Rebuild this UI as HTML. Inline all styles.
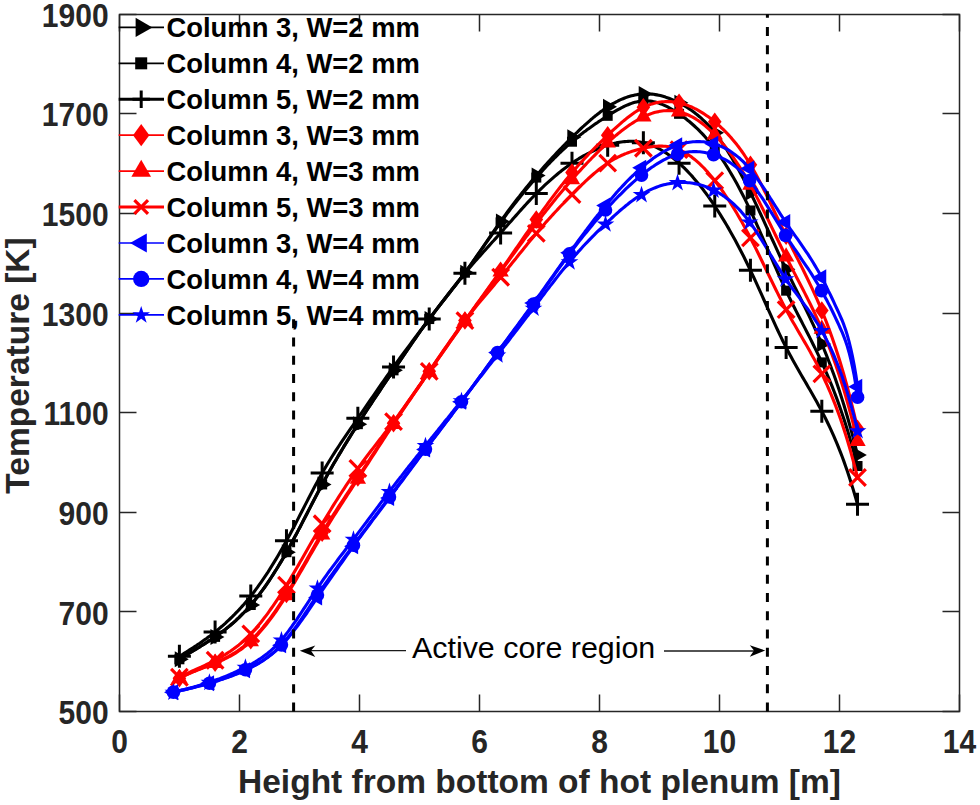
<!DOCTYPE html><html><head><meta charset="utf-8"><style>html,body{margin:0;padding:0;background:#fff;}svg{display:block;}</style></head><body>
<svg width="980" height="805" viewBox="0 0 980 805">
<rect x="0" y="0" width="980" height="805" fill="#fff"/>
<path d="M179.4,659.3 L181.1,658.2 L182.8,657.2 L184.5,656.1 L186.2,655.1 L187.9,654.0 L189.6,653.0 L191.3,652.0 L193.0,650.9 L194.7,649.9 L196.4,648.9 L198.1,647.8 L199.8,646.8 L201.5,645.7 L203.2,644.7 L204.9,643.6 L206.6,642.5 L208.3,641.4 L210.0,640.3 L211.7,639.2 L213.4,638.0 L215.1,636.9 L216.8,635.7 L218.5,634.5 L220.2,633.2 L221.9,632.0 L223.6,630.7 L225.3,629.4 L227.0,628.0 L228.7,626.6 L230.4,625.2 L232.1,623.8 L233.8,622.3 L235.5,620.8 L237.2,619.2 L238.9,617.6 L240.6,615.9 L242.3,614.2 L244.0,612.5 L245.7,610.7 L247.4,608.8 L249.1,606.9 L250.8,605.0 L252.5,603.0 L254.2,600.9 L255.9,598.8 L257.6,596.7 L259.3,594.5 L261.0,592.2 L262.7,589.9 L264.4,587.5 L266.1,585.1 L267.8,582.6 L269.5,580.1 L271.2,577.5 L272.9,574.9 L274.6,572.2 L276.3,569.5 L278.0,566.7 L279.7,563.9 L281.4,561.1 L283.1,558.2 L284.8,555.2 L286.5,552.2 L288.2,549.1 L289.9,546.1 L291.6,542.9 L293.3,539.8 L295.0,536.6 L296.7,533.4 L298.4,530.1 L300.1,526.9 L301.8,523.6 L303.5,520.3 L305.2,517.0 L306.9,513.7 L308.6,510.4 L310.3,507.1 L312.0,503.8 L313.7,500.5 L315.4,497.3 L317.1,494.0 L318.8,490.8 L320.5,487.6 L322.2,484.4 L323.9,481.3 L325.6,478.2 L327.3,475.1 L329.0,472.1 L330.7,469.1 L332.4,466.1 L334.1,463.1 L335.8,460.2 L337.5,457.3 L339.2,454.4 L340.9,451.6 L342.6,448.8 L344.3,445.9 L346.0,443.2 L347.7,440.4 L349.4,437.6 L351.1,434.9 L352.8,432.2 L354.5,429.5 L356.2,426.8 L357.8,424.2 L359.5,421.5 L361.2,418.9 L362.9,416.3 L364.6,413.7 L366.3,411.1 L368.0,408.5 L369.7,405.9 L371.4,403.3 L373.1,400.7 L374.8,398.2 L376.5,395.6 L378.2,393.1 L379.9,390.6 L381.6,388.0 L383.3,385.5 L385.0,383.0 L386.7,380.5 L388.4,377.9 L390.1,375.4 L391.8,372.9 L393.5,370.4 L395.2,367.9 L396.9,365.3 L398.6,362.8 L400.3,360.3 L402.0,357.8 L403.7,355.3 L405.4,352.8 L407.1,350.3 L408.8,347.8 L410.5,345.3 L412.2,342.8 L413.9,340.4 L415.6,338.0 L417.3,335.5 L419.0,333.1 L420.7,330.7 L422.4,328.4 L424.1,326.0 L425.8,323.7 L427.5,321.4 L429.2,319.1 L430.9,316.8 L432.6,314.6 L434.3,312.3 L436.0,310.1 L437.7,307.9 L439.4,305.7 L441.1,303.6 L442.8,301.4 L444.5,299.3 L446.2,297.1 L447.9,294.9 L449.6,292.8 L451.3,290.6 L453.0,288.4 L454.7,286.2 L456.4,284.0 L458.1,281.8 L459.8,279.6 L461.5,277.3 L463.2,275.0 L464.9,272.7 L466.6,270.4 L468.3,268.0 L470.0,265.7 L471.7,263.3 L473.4,260.8 L475.1,258.4 L476.8,255.9 L478.5,253.5 L480.2,251.0 L481.9,248.5 L483.6,246.0 L485.3,243.5 L487.0,241.1 L488.7,238.6 L490.4,236.1 L492.1,233.6 L493.8,231.1 L495.5,228.7 L497.2,226.3 L498.9,223.8 L500.6,221.4 L502.3,219.0 L504.0,216.7 L505.7,214.3 L507.4,212.0 L509.1,209.7 L510.8,207.5 L512.5,205.2 L514.2,203.0 L515.9,200.7 L517.6,198.5 L519.3,196.4 L521.0,194.2 L522.7,192.1 L524.4,189.9 L526.1,187.8 L527.8,185.8 L529.5,183.7 L531.2,181.6 L532.9,179.6 L534.6,177.6 L536.3,175.6 L538.0,173.6 L539.7,171.7 L541.4,169.7 L543.1,167.8 L544.8,165.9 L546.5,164.0 L548.2,162.1 L549.9,160.2 L551.6,158.4 L553.3,156.5 L555.0,154.7 L556.7,152.9 L558.4,151.1 L560.1,149.3 L561.8,147.6 L563.5,145.8 L565.2,144.1 L566.9,142.3 L568.6,140.6 L570.3,138.9 L572.0,137.2 L573.7,135.6 L575.4,133.9 L577.1,132.3 L578.8,130.6 L580.5,129.0 L582.2,127.4 L583.9,125.9 L585.6,124.3 L587.3,122.8 L589.0,121.3 L590.7,119.8 L592.4,118.4 L594.1,116.9 L595.8,115.6 L597.5,114.2 L599.2,112.9 L600.9,111.6 L602.6,110.4 L604.3,109.1 L606.0,108.0 L607.7,106.9 L609.4,105.8 L611.1,104.7 L612.8,103.7 L614.5,102.8 L616.2,101.9 L617.9,101.0 L619.6,100.2 L621.3,99.4 L623.0,98.7 L624.7,98.0 L626.4,97.4 L628.1,96.8 L629.8,96.3 L631.5,95.8 L633.2,95.4 L634.9,95.0 L636.6,94.7 L638.3,94.4 L640.0,94.2 L641.7,94.0 L643.4,93.9 L645.1,93.8 L646.8,93.8 L648.5,93.9 L650.2,94.0 L651.9,94.1 L653.6,94.3 L655.3,94.6 L657.0,94.9 L658.7,95.2 L660.4,95.6 L662.1,96.1 L663.8,96.6 L665.5,97.1 L667.2,97.7 L668.9,98.3 L670.6,99.0 L672.3,99.7 L674.0,100.4 L675.7,101.2 L677.4,102.0 L679.1,102.9 L680.8,103.8 L682.5,104.7 L684.2,105.7 L685.9,106.7 L687.6,107.8 L689.3,108.9 L691.0,110.1 L692.7,111.3 L694.4,112.6 L696.1,113.9 L697.8,115.3 L699.5,116.7 L701.2,118.2 L702.9,119.8 L704.6,121.4 L706.3,123.1 L708.0,124.9 L709.7,126.8 L711.4,128.7 L713.1,130.7 L714.7,132.8 L716.4,134.9 L718.1,137.2 L719.8,139.5 L721.5,141.9 L723.2,144.3 L724.9,146.9 L726.6,149.5 L728.3,152.1 L730.0,154.9 L731.7,157.7 L733.4,160.6 L735.1,163.5 L736.8,166.5 L738.5,169.6 L740.2,172.7 L741.9,175.9 L743.6,179.1 L745.3,182.4 L747.0,185.7 L748.7,189.1 L750.4,192.5 L752.1,196.0 L753.8,199.5 L755.5,203.1 L757.2,206.7 L758.9,210.3 L760.6,214.0 L762.3,217.7 L764.0,221.4 L765.7,225.1 L767.4,228.8 L769.1,232.5 L770.8,236.3 L772.5,240.0 L774.2,243.7 L775.9,247.4 L777.6,251.1 L779.3,254.8 L781.0,258.5 L782.7,262.1 L784.4,265.7 L786.1,269.2 L787.8,272.8 L789.5,276.3 L791.2,279.7 L792.9,283.2 L794.6,286.6 L796.3,290.0 L798.0,293.4 L799.7,296.8 L801.4,300.3 L803.1,303.7 L804.8,307.1 L806.5,310.6 L808.2,314.1 L809.9,317.7 L811.6,321.3 L813.3,324.9 L815.0,328.6 L816.7,332.3 L818.4,336.1 L820.1,340.0 L821.8,344.0 L823.5,348.0 L825.2,352.1 L826.9,356.4 L828.6,360.7 L830.3,365.1 L832.0,369.7 L833.7,374.3 L835.4,379.1 L837.1,384.0 L838.8,389.0 L840.5,394.2 L842.2,399.6 L843.9,405.0 L845.6,410.7 L847.3,416.5 L849.0,422.5 L850.7,428.6 L852.4,434.9 L854.1,441.4 L855.8,448.2 L857.5,455.1" fill="none" stroke="#000" stroke-width="3.1" stroke-linejoin="round"/>
<path d="M174.73,651.30 L188.73,659.30 L174.73,667.30Z" fill="#000"/>
<path d="M210.42,628.88 L224.42,636.88 L210.42,644.88Z" fill="#000"/>
<path d="M246.11,597.00 L260.11,605.00 L246.11,613.00Z" fill="#000"/>
<path d="M281.80,544.19 L295.80,552.19 L281.80,560.19Z" fill="#000"/>
<path d="M317.49,476.45 L331.49,484.45 L317.49,492.45Z" fill="#000"/>
<path d="M353.18,416.17 L367.18,424.17 L353.18,432.17Z" fill="#000"/>
<path d="M388.87,362.37 L402.87,370.37 L388.87,378.37Z" fill="#000"/>
<path d="M424.56,311.06 L438.56,319.06 L424.56,327.06Z" fill="#000"/>
<path d="M460.25,264.74 L474.25,272.74 L460.25,280.74Z" fill="#000"/>
<path d="M495.94,213.43 L509.94,221.43 L495.94,229.43Z" fill="#000"/>
<path d="M531.63,167.60 L545.63,175.60 L531.63,183.60Z" fill="#000"/>
<path d="M567.32,129.24 L581.32,137.24 L567.32,145.24Z" fill="#000"/>
<path d="M603.01,98.85 L617.01,106.85 L603.01,114.85Z" fill="#000"/>
<path d="M638.70,85.90 L652.70,93.90 L638.70,101.90Z" fill="#000"/>
<path d="M674.39,94.87 L688.39,102.87 L674.39,110.87Z" fill="#000"/>
<path d="M710.08,124.76 L724.08,132.76 L710.08,140.76Z" fill="#000"/>
<path d="M745.77,184.54 L759.77,192.54 L745.77,200.54Z" fill="#000"/>
<path d="M781.46,261.25 L795.46,269.25 L781.46,277.25Z" fill="#000"/>
<path d="M817.15,335.97 L831.15,343.97 L817.15,351.97Z" fill="#000"/>
<path d="M852.84,447.06 L866.84,455.06 L852.84,463.06Z" fill="#000"/>
<path d="M179.4,659.3 L181.1,658.2 L182.8,657.2 L184.5,656.1 L186.2,655.1 L187.9,654.0 L189.6,653.0 L191.3,652.0 L193.0,650.9 L194.7,649.9 L196.4,648.9 L198.1,647.8 L199.8,646.8 L201.5,645.7 L203.2,644.7 L204.9,643.6 L206.6,642.5 L208.3,641.4 L210.0,640.3 L211.7,639.2 L213.4,638.0 L215.1,636.9 L216.8,635.7 L218.5,634.5 L220.2,633.2 L221.9,632.0 L223.6,630.7 L225.3,629.4 L227.0,628.0 L228.7,626.6 L230.4,625.2 L232.1,623.8 L233.8,622.3 L235.5,620.8 L237.2,619.2 L238.9,617.6 L240.6,615.9 L242.3,614.2 L244.0,612.5 L245.7,610.7 L247.4,608.8 L249.1,606.9 L250.8,605.0 L252.5,603.0 L254.2,600.9 L255.9,598.8 L257.6,596.7 L259.3,594.5 L261.0,592.2 L262.7,589.9 L264.4,587.5 L266.1,585.1 L267.8,582.6 L269.5,580.1 L271.2,577.5 L272.9,574.9 L274.6,572.2 L276.3,569.5 L278.0,566.7 L279.7,563.9 L281.4,561.1 L283.1,558.2 L284.8,555.2 L286.5,552.2 L288.2,549.1 L289.9,546.1 L291.6,542.9 L293.3,539.8 L295.0,536.6 L296.7,533.4 L298.4,530.1 L300.1,526.9 L301.8,523.6 L303.5,520.3 L305.2,517.0 L306.9,513.7 L308.6,510.4 L310.3,507.1 L312.0,503.8 L313.7,500.5 L315.4,497.3 L317.1,494.0 L318.8,490.8 L320.5,487.6 L322.2,484.4 L323.9,481.3 L325.6,478.2 L327.3,475.1 L329.0,472.1 L330.7,469.1 L332.4,466.1 L334.1,463.1 L335.8,460.2 L337.5,457.3 L339.2,454.4 L340.9,451.6 L342.6,448.8 L344.3,445.9 L346.0,443.2 L347.7,440.4 L349.4,437.6 L351.1,434.9 L352.8,432.2 L354.5,429.5 L356.2,426.8 L357.8,424.2 L359.5,421.5 L361.2,418.9 L362.9,416.3 L364.6,413.7 L366.3,411.0 L368.0,408.5 L369.7,405.9 L371.4,403.3 L373.1,400.7 L374.8,398.2 L376.5,395.6 L378.2,393.1 L379.9,390.6 L381.6,388.0 L383.3,385.5 L385.0,383.0 L386.7,380.4 L388.4,377.9 L390.1,375.4 L391.8,372.9 L393.5,370.4 L395.2,367.9 L396.9,365.3 L398.6,362.8 L400.3,360.3 L402.0,357.8 L403.7,355.3 L405.4,352.8 L407.1,350.3 L408.8,347.8 L410.5,345.3 L412.2,342.9 L413.9,340.4 L415.6,338.0 L417.3,335.6 L419.0,333.1 L420.7,330.7 L422.4,328.4 L424.1,326.0 L425.8,323.7 L427.5,321.4 L429.2,319.1 L430.9,316.8 L432.6,314.5 L434.3,312.3 L436.0,310.1 L437.7,307.9 L439.4,305.7 L441.1,303.5 L442.8,301.3 L444.5,299.2 L446.2,297.0 L447.9,294.8 L449.6,292.7 L451.3,290.5 L453.0,288.3 L454.7,286.2 L456.4,284.0 L458.1,281.7 L459.8,279.5 L461.5,277.3 L463.2,275.0 L464.9,272.7 L466.6,270.4 L468.3,268.1 L470.0,265.8 L471.7,263.4 L473.4,261.0 L475.1,258.6 L476.8,256.2 L478.5,253.8 L480.2,251.3 L481.9,248.9 L483.6,246.5 L485.3,244.0 L487.0,241.6 L488.7,239.2 L490.4,236.8 L492.1,234.3 L493.8,231.9 L495.5,229.5 L497.2,227.1 L498.9,224.8 L500.6,222.4 L502.3,220.1 L504.0,217.8 L505.7,215.5 L507.4,213.2 L509.1,211.0 L510.8,208.7 L512.5,206.5 L514.2,204.3 L515.9,202.2 L517.6,200.0 L519.3,197.9 L521.0,195.8 L522.7,193.7 L524.4,191.6 L526.1,189.5 L527.8,187.5 L529.5,185.5 L531.2,183.5 L532.9,181.5 L534.6,179.5 L536.3,177.6 L538.0,175.7 L539.7,173.8 L541.4,171.9 L543.1,170.0 L544.8,168.2 L546.5,166.3 L548.2,164.5 L549.9,162.8 L551.6,161.0 L553.3,159.3 L555.0,157.5 L556.7,155.9 L558.4,154.2 L560.1,152.5 L561.8,150.9 L563.5,149.3 L565.2,147.8 L566.9,146.2 L568.6,144.7 L570.3,143.2 L572.0,141.7 L573.7,140.3 L575.4,138.9 L577.1,137.5 L578.8,136.1 L580.5,134.8 L582.2,133.4 L583.9,132.1 L585.6,130.9 L587.3,129.6 L589.0,128.4 L590.7,127.2 L592.4,126.0 L594.1,124.8 L595.8,123.6 L597.5,122.5 L599.2,121.3 L600.9,120.2 L602.6,119.1 L604.3,118.0 L606.0,116.9 L607.7,115.8 L609.4,114.8 L611.1,113.7 L612.8,112.7 L614.5,111.7 L616.2,110.7 L617.9,109.7 L619.6,108.8 L621.3,107.9 L623.0,107.0 L624.7,106.2 L626.4,105.4 L628.1,104.7 L629.8,104.0 L631.5,103.4 L633.2,102.8 L634.9,102.3 L636.6,101.9 L638.3,101.5 L640.0,101.2 L641.7,101.0 L643.4,100.9 L645.1,100.8 L646.8,100.9 L648.5,101.0 L650.2,101.1 L651.9,101.4 L653.6,101.7 L655.3,102.1 L657.0,102.6 L658.7,103.1 L660.4,103.7 L662.1,104.4 L663.8,105.1 L665.5,105.9 L667.2,106.7 L668.9,107.6 L670.6,108.5 L672.3,109.5 L674.0,110.5 L675.7,111.6 L677.4,112.7 L679.1,113.8 L680.8,115.0 L682.5,116.2 L684.2,117.5 L685.9,118.8 L687.6,120.2 L689.3,121.5 L691.0,123.0 L692.7,124.5 L694.4,126.0 L696.1,127.6 L697.8,129.2 L699.5,130.9 L701.2,132.7 L702.9,134.4 L704.6,136.3 L706.3,138.2 L708.0,140.2 L709.7,142.2 L711.4,144.3 L713.1,146.5 L714.7,148.7 L716.4,151.0 L718.1,153.3 L719.8,155.8 L721.5,158.3 L723.2,160.8 L724.9,163.4 L726.6,166.1 L728.3,168.9 L730.0,171.7 L731.7,174.6 L733.4,177.5 L735.1,180.5 L736.8,183.6 L738.5,186.7 L740.2,189.9 L741.9,193.2 L743.6,196.5 L745.3,199.9 L747.0,203.4 L748.7,206.9 L750.4,210.5 L752.1,214.1 L753.8,217.8 L755.5,221.5 L757.2,225.3 L758.9,229.1 L760.6,233.0 L762.3,236.9 L764.0,240.8 L765.7,244.7 L767.4,248.6 L769.1,252.6 L770.8,256.5 L772.5,260.4 L774.2,264.3 L775.9,268.2 L777.6,272.0 L779.3,275.8 L781.0,279.6 L782.7,283.4 L784.4,287.0 L786.1,290.7 L787.8,294.2 L789.5,297.8 L791.2,301.2 L792.9,304.6 L794.6,308.0 L796.3,311.4 L798.0,314.7 L799.7,318.0 L801.4,321.3 L803.1,324.6 L804.8,327.9 L806.5,331.2 L808.2,334.5 L809.9,337.9 L811.6,341.2 L813.3,344.7 L815.0,348.1 L816.7,351.6 L818.4,355.1 L820.1,358.7 L821.8,362.4 L823.5,366.1 L825.2,370.0 L826.9,373.9 L828.6,377.9 L830.3,382.0 L832.0,386.2 L833.7,390.5 L835.4,394.9 L837.1,399.4 L838.8,404.1 L840.5,408.9 L842.2,413.9 L843.9,419.0 L845.6,424.3 L847.3,429.7 L849.0,435.3 L850.7,441.1 L852.4,447.0 L854.1,453.2 L855.8,459.5 L857.5,466.0" fill="none" stroke="#000" stroke-width="3.1" stroke-linejoin="round"/>
<rect x="174.40" y="654.30" width="10.00" height="10.00" fill="#000"/>
<rect x="210.09" y="631.88" width="10.00" height="10.00" fill="#000"/>
<rect x="245.78" y="600.00" width="10.00" height="10.00" fill="#000"/>
<rect x="281.47" y="547.19" width="10.00" height="10.00" fill="#000"/>
<rect x="317.16" y="479.45" width="10.00" height="10.00" fill="#000"/>
<rect x="352.85" y="419.17" width="10.00" height="10.00" fill="#000"/>
<rect x="388.54" y="365.37" width="10.00" height="10.00" fill="#000"/>
<rect x="424.23" y="314.06" width="10.00" height="10.00" fill="#000"/>
<rect x="459.92" y="267.74" width="10.00" height="10.00" fill="#000"/>
<rect x="495.61" y="217.42" width="10.00" height="10.00" fill="#000"/>
<rect x="531.30" y="172.59" width="10.00" height="10.00" fill="#000"/>
<rect x="566.99" y="136.72" width="10.00" height="10.00" fill="#000"/>
<rect x="602.68" y="110.82" width="10.00" height="10.00" fill="#000"/>
<rect x="638.37" y="95.88" width="10.00" height="10.00" fill="#000"/>
<rect x="674.06" y="108.83" width="10.00" height="10.00" fill="#000"/>
<rect x="709.75" y="143.70" width="10.00" height="10.00" fill="#000"/>
<rect x="745.44" y="205.47" width="10.00" height="10.00" fill="#000"/>
<rect x="781.13" y="285.67" width="10.00" height="10.00" fill="#000"/>
<rect x="816.82" y="357.40" width="10.00" height="10.00" fill="#000"/>
<rect x="852.51" y="461.02" width="10.00" height="10.00" fill="#000"/>
<path d="M179.4,656.3 L181.1,655.3 L182.8,654.2 L184.5,653.1 L186.2,652.1 L187.9,651.0 L189.6,649.9 L191.3,648.8 L193.0,647.7 L194.7,646.6 L196.4,645.5 L198.1,644.3 L199.8,643.2 L201.5,642.0 L203.2,640.8 L204.9,639.6 L206.6,638.4 L208.3,637.1 L210.0,635.9 L211.7,634.6 L213.4,633.2 L215.1,631.9 L216.8,630.5 L218.5,629.1 L220.2,627.7 L221.9,626.3 L223.6,624.8 L225.3,623.3 L227.0,621.7 L228.7,620.1 L230.4,618.5 L232.1,616.9 L233.8,615.2 L235.5,613.4 L237.2,611.7 L238.9,609.9 L240.6,608.0 L242.3,606.1 L244.0,604.2 L245.7,602.2 L247.4,600.2 L249.1,598.1 L250.8,596.0 L252.5,593.9 L254.2,591.7 L255.9,589.4 L257.6,587.1 L259.3,584.7 L261.0,582.3 L262.7,579.9 L264.4,577.4 L266.1,574.8 L267.8,572.3 L269.5,569.6 L271.2,566.9 L272.9,564.2 L274.6,561.4 L276.3,558.6 L278.0,555.7 L279.7,552.8 L281.4,549.9 L283.1,546.9 L284.8,543.8 L286.5,540.7 L288.2,537.6 L289.9,534.4 L291.6,531.2 L293.3,528.0 L295.0,524.7 L296.7,521.4 L298.4,518.1 L300.1,514.8 L301.8,511.5 L303.5,508.2 L305.2,504.9 L306.9,501.6 L308.6,498.3 L310.3,495.0 L312.0,491.7 L313.7,488.5 L315.4,485.3 L317.1,482.2 L318.8,479.1 L320.5,476.0 L322.2,473.0 L323.9,470.0 L325.6,467.1 L327.3,464.3 L329.0,461.5 L330.7,458.7 L332.4,456.0 L334.1,453.3 L335.8,450.7 L337.5,448.1 L339.2,445.5 L340.9,442.9 L342.6,440.4 L344.3,437.9 L346.0,435.4 L347.7,432.9 L349.4,430.4 L351.1,428.0 L352.8,425.5 L354.5,423.1 L356.2,420.6 L357.8,418.2 L359.5,415.7 L361.2,413.3 L362.9,410.8 L364.6,408.4 L366.3,405.9 L368.0,403.4 L369.7,400.9 L371.4,398.5 L373.1,396.0 L374.8,393.5 L376.5,391.1 L378.2,388.6 L379.9,386.2 L381.6,383.7 L383.3,381.3 L385.0,378.9 L386.7,376.5 L388.4,374.0 L390.1,371.6 L391.8,369.3 L393.5,366.9 L395.2,364.5 L396.9,362.2 L398.6,359.8 L400.3,357.5 L402.0,355.2 L403.7,352.9 L405.4,350.6 L407.1,348.3 L408.8,346.1 L410.5,343.8 L412.2,341.5 L413.9,339.3 L415.6,337.0 L417.3,334.8 L419.0,332.5 L420.7,330.3 L422.4,328.0 L424.1,325.8 L425.8,323.5 L427.5,321.3 L429.2,319.1 L430.9,316.8 L432.6,314.6 L434.3,312.3 L436.0,310.1 L437.7,307.8 L439.4,305.6 L441.1,303.4 L442.8,301.2 L444.5,298.9 L446.2,296.7 L447.9,294.5 L449.6,292.3 L451.3,290.1 L453.0,288.0 L454.7,285.8 L456.4,283.7 L458.1,281.6 L459.8,279.4 L461.5,277.4 L463.2,275.3 L464.9,273.2 L466.6,271.2 L468.3,269.2 L470.0,267.2 L471.7,265.2 L473.4,263.3 L475.1,261.3 L476.8,259.4 L478.5,257.5 L480.2,255.6 L481.9,253.7 L483.6,251.8 L485.3,249.9 L487.0,248.0 L488.7,246.1 L490.4,244.2 L492.1,242.3 L493.8,240.5 L495.5,238.6 L497.2,236.7 L498.9,234.8 L500.6,232.9 L502.3,231.0 L504.0,229.1 L505.7,227.1 L507.4,225.2 L509.1,223.3 L510.8,221.4 L512.5,219.4 L514.2,217.5 L515.9,215.6 L517.6,213.7 L519.3,211.8 L521.0,209.9 L522.7,208.0 L524.4,206.1 L526.1,204.3 L527.8,202.4 L529.5,200.6 L531.2,198.8 L532.9,197.0 L534.6,195.3 L536.3,193.5 L538.0,191.8 L539.7,190.1 L541.4,188.5 L543.1,186.8 L544.8,185.2 L546.5,183.6 L548.2,182.1 L549.9,180.6 L551.6,179.1 L553.3,177.6 L555.0,176.1 L556.7,174.7 L558.4,173.3 L560.1,171.9 L561.8,170.6 L563.5,169.3 L565.2,168.0 L566.9,166.8 L568.6,165.5 L570.3,164.3 L572.0,163.1 L573.7,162.0 L575.4,160.9 L577.1,159.8 L578.8,158.7 L580.5,157.7 L582.2,156.7 L583.9,155.7 L585.6,154.8 L587.3,153.9 L589.0,153.0 L590.7,152.1 L592.4,151.3 L594.1,150.5 L595.8,149.7 L597.5,149.0 L599.2,148.3 L600.9,147.6 L602.6,147.0 L604.3,146.3 L606.0,145.8 L607.7,145.2 L609.4,144.7 L611.1,144.2 L612.8,143.7 L614.5,143.3 L616.2,142.9 L617.9,142.6 L619.6,142.3 L621.3,142.0 L623.0,141.8 L624.7,141.6 L626.4,141.5 L628.1,141.4 L629.8,141.3 L631.5,141.3 L633.2,141.3 L634.9,141.4 L636.6,141.6 L638.3,141.8 L640.0,142.0 L641.7,142.4 L643.4,142.7 L645.1,143.1 L646.8,143.6 L648.5,144.2 L650.2,144.8 L651.9,145.4 L653.6,146.1 L655.3,146.9 L657.0,147.7 L658.7,148.6 L660.4,149.5 L662.1,150.5 L663.8,151.5 L665.5,152.6 L667.2,153.7 L668.9,154.9 L670.6,156.2 L672.3,157.5 L674.0,158.8 L675.7,160.2 L677.4,161.6 L679.1,163.1 L680.8,164.7 L682.5,166.3 L684.2,167.9 L685.9,169.6 L687.6,171.4 L689.3,173.2 L691.0,175.0 L692.7,176.9 L694.4,178.9 L696.1,180.9 L697.8,182.9 L699.5,185.0 L701.2,187.1 L702.9,189.3 L704.6,191.6 L706.3,193.8 L708.0,196.2 L709.7,198.6 L711.4,201.0 L713.1,203.5 L714.7,206.0 L716.4,208.6 L718.1,211.2 L719.8,213.8 L721.5,216.6 L723.2,219.3 L724.9,222.1 L726.6,225.0 L728.3,227.9 L730.0,230.9 L731.7,233.9 L733.4,236.9 L735.1,240.0 L736.8,243.2 L738.5,246.4 L740.2,249.7 L741.9,253.0 L743.6,256.3 L745.3,259.7 L747.0,263.2 L748.7,266.7 L750.4,270.2 L752.1,273.9 L753.8,277.5 L755.5,281.2 L757.2,284.9 L758.9,288.7 L760.6,292.4 L762.3,296.2 L764.0,300.0 L765.7,303.8 L767.4,307.6 L769.1,311.4 L770.8,315.2 L772.5,318.9 L774.2,322.7 L775.9,326.3 L777.6,330.0 L779.3,333.6 L781.0,337.2 L782.7,340.7 L784.4,344.1 L786.1,347.5 L787.8,350.8 L789.5,354.0 L791.2,357.1 L792.9,360.2 L794.6,363.3 L796.3,366.3 L798.0,369.3 L799.7,372.3 L801.4,375.2 L803.1,378.1 L804.8,381.0 L806.5,383.9 L808.2,386.9 L809.9,389.8 L811.6,392.7 L813.3,395.7 L815.0,398.7 L816.7,401.8 L818.4,404.9 L820.1,408.0 L821.8,411.2 L823.5,414.5 L825.2,417.8 L826.9,421.3 L828.6,424.8 L830.3,428.4 L832.0,432.1 L833.7,435.9 L835.4,439.8 L837.1,443.9 L838.8,448.1 L840.5,452.4 L842.2,456.8 L843.9,461.4 L845.6,466.2 L847.3,471.1 L849.0,476.2 L850.7,481.5 L852.4,486.9 L854.1,492.5 L855.8,498.3 L857.5,504.4" fill="none" stroke="#000" stroke-width="3.1" stroke-linejoin="round"/>
<path d="M167.90,656.31H190.90M179.40,644.81V667.81" stroke="#000" stroke-width="3" fill="none"/>
<path d="M203.59,631.90H226.59M215.09,620.40V643.40" stroke="#000" stroke-width="3" fill="none"/>
<path d="M239.28,596.03H262.28M250.78,584.53V607.53" stroke="#000" stroke-width="3" fill="none"/>
<path d="M274.97,540.74H297.97M286.47,529.24V552.24" stroke="#000" stroke-width="3" fill="none"/>
<path d="M310.66,472.99H333.66M322.16,461.49V484.49" stroke="#000" stroke-width="3" fill="none"/>
<path d="M346.35,418.19H369.35M357.85,406.69V429.69" stroke="#000" stroke-width="3" fill="none"/>
<path d="M382.04,366.89H405.04M393.54,355.39V378.39" stroke="#000" stroke-width="3" fill="none"/>
<path d="M417.73,319.06H440.73M429.23,307.56V330.56" stroke="#000" stroke-width="3" fill="none"/>
<path d="M453.42,273.23H476.42M464.92,261.73V284.73" stroke="#000" stroke-width="3" fill="none"/>
<path d="M489.11,232.88H512.11M500.61,221.38V244.38" stroke="#000" stroke-width="3" fill="none"/>
<path d="M524.80,193.53H547.80M536.30,182.03V205.03" stroke="#000" stroke-width="3" fill="none"/>
<path d="M560.49,163.14H583.49M571.99,151.64V174.64" stroke="#000" stroke-width="3" fill="none"/>
<path d="M596.18,145.21H619.18M607.68,133.71V156.71" stroke="#000" stroke-width="3" fill="none"/>
<path d="M631.87,142.72H654.87M643.37,131.22V154.22" stroke="#000" stroke-width="3" fill="none"/>
<path d="M667.56,163.14H690.56M679.06,151.64V174.64" stroke="#000" stroke-width="3" fill="none"/>
<path d="M703.25,205.99H726.25M714.75,194.49V217.49" stroke="#000" stroke-width="3" fill="none"/>
<path d="M738.94,270.25H761.94M750.44,258.75V281.75" stroke="#000" stroke-width="3" fill="none"/>
<path d="M774.63,347.46H797.63M786.13,335.96V358.96" stroke="#000" stroke-width="3" fill="none"/>
<path d="M810.32,411.22H833.32M821.82,399.72V422.72" stroke="#000" stroke-width="3" fill="none"/>
<path d="M846.01,504.37H869.01M857.51,492.87V515.87" stroke="#000" stroke-width="3" fill="none"/>
<path d="M179.4,678.2 L181.1,677.3 L182.8,676.4 L184.5,675.6 L186.2,674.8 L187.9,674.0 L189.6,673.2 L191.3,672.5 L193.0,671.7 L194.7,671.0 L196.4,670.3 L198.1,669.6 L199.8,668.9 L201.5,668.3 L203.2,667.6 L204.9,666.9 L206.6,666.2 L208.3,665.6 L210.0,664.9 L211.7,664.2 L213.4,663.5 L215.1,662.8 L216.8,662.1 L218.5,661.3 L220.2,660.5 L221.9,659.7 L223.6,658.9 L225.3,658.1 L227.0,657.2 L228.7,656.3 L230.4,655.3 L232.1,654.4 L233.8,653.3 L235.5,652.3 L237.2,651.2 L238.9,650.0 L240.6,648.8 L242.3,647.5 L244.0,646.2 L245.7,644.8 L247.4,643.4 L249.1,641.9 L250.8,640.4 L252.5,638.7 L254.2,637.1 L255.9,635.3 L257.6,633.5 L259.3,631.6 L261.0,629.7 L262.7,627.7 L264.4,625.6 L266.1,623.5 L267.8,621.3 L269.5,619.1 L271.2,616.8 L272.9,614.5 L274.6,612.1 L276.3,609.7 L278.0,607.2 L279.7,604.6 L281.4,602.1 L283.1,599.4 L284.8,596.8 L286.5,594.0 L288.2,591.3 L289.9,588.5 L291.6,585.7 L293.3,582.8 L295.0,579.9 L296.7,577.0 L298.4,574.1 L300.1,571.1 L301.8,568.1 L303.5,565.2 L305.2,562.2 L306.9,559.2 L308.6,556.2 L310.3,553.2 L312.0,550.2 L313.7,547.3 L315.4,544.3 L317.1,541.4 L318.8,538.5 L320.5,535.6 L322.2,532.8 L323.9,529.9 L325.6,527.2 L327.3,524.4 L329.0,521.7 L330.7,519.0 L332.4,516.3 L334.1,513.6 L335.8,511.0 L337.5,508.3 L339.2,505.7 L340.9,503.1 L342.6,500.5 L344.3,498.0 L346.0,495.4 L347.7,492.8 L349.4,490.3 L351.1,487.7 L352.8,485.2 L354.5,482.6 L356.2,480.0 L357.8,477.5 L359.5,474.9 L361.2,472.3 L362.9,469.7 L364.6,467.1 L366.3,464.5 L368.0,461.9 L369.7,459.3 L371.4,456.7 L373.1,454.1 L374.8,451.5 L376.5,448.9 L378.2,446.3 L379.9,443.7 L381.6,441.2 L383.3,438.6 L385.0,436.0 L386.7,433.4 L388.4,430.8 L390.1,428.3 L391.8,425.7 L393.5,423.2 L395.2,420.6 L396.9,418.1 L398.6,415.6 L400.3,413.1 L402.0,410.6 L403.7,408.1 L405.4,405.6 L407.1,403.2 L408.8,400.7 L410.5,398.2 L412.2,395.8 L413.9,393.3 L415.6,390.9 L417.3,388.4 L419.0,386.0 L420.7,383.5 L422.4,381.1 L424.1,378.7 L425.8,376.2 L427.5,373.8 L429.2,371.4 L430.9,368.9 L432.6,366.5 L434.3,364.1 L436.0,361.6 L437.7,359.2 L439.4,356.8 L441.1,354.3 L442.8,351.9 L444.5,349.5 L446.2,347.0 L447.9,344.6 L449.6,342.2 L451.3,339.8 L453.0,337.4 L454.7,334.9 L456.4,332.5 L458.1,330.1 L459.8,327.7 L461.5,325.3 L463.2,322.9 L464.9,320.6 L466.6,318.2 L468.3,315.8 L470.0,313.4 L471.7,311.1 L473.4,308.7 L475.1,306.4 L476.8,304.0 L478.5,301.6 L480.2,299.3 L481.9,296.9 L483.6,294.6 L485.3,292.2 L487.0,289.8 L488.7,287.5 L490.4,285.1 L492.1,282.7 L493.8,280.3 L495.5,278.0 L497.2,275.6 L498.9,273.2 L500.6,270.7 L502.3,268.3 L504.0,265.9 L505.7,263.5 L507.4,261.0 L509.1,258.6 L510.8,256.1 L512.5,253.7 L514.2,251.2 L515.9,248.7 L517.6,246.3 L519.3,243.8 L521.0,241.4 L522.7,238.9 L524.4,236.4 L526.1,234.0 L527.8,231.6 L529.5,229.1 L531.2,226.7 L532.9,224.3 L534.6,221.8 L536.3,219.4 L538.0,217.0 L539.7,214.7 L541.4,212.3 L543.1,209.9 L544.8,207.6 L546.5,205.3 L548.2,202.9 L549.9,200.6 L551.6,198.4 L553.3,196.1 L555.0,193.9 L556.7,191.6 L558.4,189.4 L560.1,187.2 L561.8,185.1 L563.5,182.9 L565.2,180.8 L566.9,178.7 L568.6,176.7 L570.3,174.6 L572.0,172.6 L573.7,170.6 L575.4,168.7 L577.1,166.7 L578.8,164.8 L580.5,162.9 L582.2,161.1 L583.9,159.2 L585.6,157.4 L587.3,155.6 L589.0,153.8 L590.7,152.0 L592.4,150.3 L594.1,148.6 L595.8,146.9 L597.5,145.2 L599.2,143.5 L600.9,141.8 L602.6,140.2 L604.3,138.5 L606.0,136.9 L607.7,135.2 L609.4,133.6 L611.1,132.0 L612.8,130.4 L614.5,128.9 L616.2,127.3 L617.9,125.8 L619.6,124.3 L621.3,122.8 L623.0,121.4 L624.7,120.0 L626.4,118.6 L628.1,117.3 L629.8,116.0 L631.5,114.7 L633.2,113.5 L634.9,112.3 L636.6,111.2 L638.3,110.2 L640.0,109.2 L641.7,108.2 L643.4,107.4 L645.1,106.5 L646.8,105.8 L648.5,105.1 L650.2,104.5 L651.9,103.9 L653.6,103.4 L655.3,103.0 L657.0,102.6 L658.7,102.3 L660.4,102.0 L662.1,101.8 L663.8,101.7 L665.5,101.6 L667.2,101.5 L668.9,101.6 L670.6,101.6 L672.3,101.8 L674.0,102.0 L675.7,102.2 L677.4,102.5 L679.1,102.9 L680.8,103.3 L682.5,103.7 L684.2,104.2 L685.9,104.8 L687.6,105.4 L689.3,106.1 L691.0,106.8 L692.7,107.5 L694.4,108.4 L696.1,109.2 L697.8,110.1 L699.5,111.1 L701.2,112.1 L702.9,113.1 L704.6,114.2 L706.3,115.4 L708.0,116.6 L709.7,117.8 L711.4,119.1 L713.1,120.4 L714.7,121.8 L716.4,123.2 L718.1,124.7 L719.8,126.2 L721.5,127.8 L723.2,129.4 L724.9,131.1 L726.6,132.8 L728.3,134.6 L730.0,136.5 L731.7,138.4 L733.4,140.4 L735.1,142.5 L736.8,144.6 L738.5,146.8 L740.2,149.1 L741.9,151.5 L743.6,153.9 L745.3,156.5 L747.0,159.1 L748.7,161.8 L750.4,164.6 L752.1,167.5 L753.8,170.5 L755.5,173.6 L757.2,176.8 L758.9,180.0 L760.6,183.3 L762.3,186.6 L764.0,190.0 L765.7,193.4 L767.4,196.9 L769.1,200.4 L770.8,203.9 L772.5,207.5 L774.2,211.1 L775.9,214.6 L777.6,218.2 L779.3,221.8 L781.0,225.3 L782.7,228.9 L784.4,232.4 L786.1,235.9 L787.8,239.3 L789.5,242.7 L791.2,246.1 L792.9,249.5 L794.6,252.9 L796.3,256.3 L798.0,259.6 L799.7,263.0 L801.4,266.4 L803.1,269.8 L804.8,273.3 L806.5,276.7 L808.2,280.2 L809.9,283.8 L811.6,287.4 L813.3,291.1 L815.0,294.8 L816.7,298.7 L818.4,302.5 L820.1,306.5 L821.8,310.6 L823.5,314.8 L825.2,319.0 L826.9,323.4 L828.6,327.9 L830.3,332.6 L832.0,337.3 L833.7,342.2 L835.4,347.2 L837.1,352.4 L838.8,357.8 L840.5,363.3 L842.2,368.9 L843.9,374.8 L845.6,380.8 L847.3,387.0 L849.0,393.5 L850.7,400.1 L852.4,406.9 L854.1,413.9 L855.8,421.2 L857.5,428.7" fill="none" stroke="#f00" stroke-width="3.1" stroke-linejoin="round"/>
<path d="M179.40,668.97 L186.20,678.22 L179.40,687.47 L172.60,678.22Z" fill="#f00"/>
<path d="M215.09,653.53 L221.89,662.78 L215.09,672.03 L208.29,662.78Z" fill="#f00"/>
<path d="M250.78,631.12 L257.58,640.37 L250.78,649.62 L243.98,640.37Z" fill="#f00"/>
<path d="M286.47,584.79 L293.27,594.04 L286.47,603.29 L279.67,594.04Z" fill="#f00"/>
<path d="M322.16,523.52 L328.96,532.77 L322.16,542.02 L315.36,532.77Z" fill="#f00"/>
<path d="M357.85,468.22 L364.65,477.47 L357.85,486.72 L351.05,477.47Z" fill="#f00"/>
<path d="M393.54,413.93 L400.34,423.18 L393.54,432.43 L386.74,423.18Z" fill="#f00"/>
<path d="M429.23,362.12 L436.03,371.37 L429.23,380.62 L422.43,371.37Z" fill="#f00"/>
<path d="M464.92,311.31 L471.72,320.56 L464.92,329.81 L458.12,320.56Z" fill="#f00"/>
<path d="M500.61,261.49 L507.41,270.74 L500.61,279.99 L493.81,270.74Z" fill="#f00"/>
<path d="M536.30,210.18 L543.10,219.43 L536.30,228.68 L529.50,219.43Z" fill="#f00"/>
<path d="M571.99,163.36 L578.79,172.61 L571.99,181.86 L565.19,172.61Z" fill="#f00"/>
<path d="M607.68,126.00 L614.48,135.25 L607.68,144.50 L600.88,135.25Z" fill="#f00"/>
<path d="M643.37,98.10 L650.17,107.35 L643.37,116.60 L636.57,107.35Z" fill="#f00"/>
<path d="M679.06,93.62 L685.86,102.87 L679.06,112.12 L672.26,102.87Z" fill="#f00"/>
<path d="M714.75,112.55 L721.55,121.80 L714.75,131.05 L707.95,121.80Z" fill="#f00"/>
<path d="M750.44,155.39 L757.24,164.64 L750.44,173.89 L743.64,164.64Z" fill="#f00"/>
<path d="M786.13,226.62 L792.93,235.87 L786.13,245.12 L779.33,235.87Z" fill="#f00"/>
<path d="M821.82,301.35 L828.62,310.60 L821.82,319.85 L815.02,310.60Z" fill="#f00"/>
<path d="M857.51,419.40 L864.31,428.65 L857.51,437.90 L850.71,428.65Z" fill="#f00"/>
<path d="M179.4,678.2 L181.1,677.3 L182.8,676.5 L184.5,675.7 L186.2,674.9 L187.9,674.1 L189.6,673.3 L191.3,672.6 L193.0,671.9 L194.7,671.2 L196.4,670.5 L198.1,669.9 L199.8,669.2 L201.5,668.6 L203.2,667.9 L204.9,667.3 L206.6,666.6 L208.3,666.0 L210.0,665.3 L211.7,664.6 L213.4,664.0 L215.1,663.3 L216.8,662.6 L218.5,661.8 L220.2,661.1 L221.9,660.3 L223.6,659.5 L225.3,658.7 L227.0,657.9 L228.7,657.0 L230.4,656.1 L232.1,655.1 L233.8,654.1 L235.5,653.1 L237.2,652.0 L238.9,650.8 L240.6,649.7 L242.3,648.4 L244.0,647.1 L245.7,645.8 L247.4,644.4 L249.1,642.9 L250.8,641.4 L252.5,639.8 L254.2,638.1 L255.9,636.4 L257.6,634.6 L259.3,632.7 L261.0,630.8 L262.7,628.8 L264.4,626.8 L266.1,624.7 L267.8,622.5 L269.5,620.3 L271.2,618.1 L272.9,615.8 L274.6,613.4 L276.3,611.0 L278.0,608.5 L279.7,606.0 L281.4,603.5 L283.1,600.9 L284.8,598.2 L286.5,595.5 L288.2,592.8 L289.9,590.0 L291.6,587.2 L293.3,584.4 L295.0,581.6 L296.7,578.7 L298.4,575.8 L300.1,572.8 L301.8,569.9 L303.5,567.0 L305.2,564.0 L306.9,561.1 L308.6,558.1 L310.3,555.1 L312.0,552.2 L313.7,549.2 L315.4,546.3 L317.1,543.4 L318.8,540.5 L320.5,537.6 L322.2,534.8 L323.9,531.9 L325.6,529.1 L327.3,526.4 L329.0,523.6 L330.7,520.9 L332.4,518.2 L334.1,515.5 L335.8,512.8 L337.5,510.2 L339.2,507.6 L340.9,504.9 L342.6,502.3 L344.3,499.7 L346.0,497.1 L347.7,494.5 L349.4,491.9 L351.1,489.3 L352.8,486.7 L354.5,484.2 L356.2,481.6 L357.8,479.0 L359.5,476.4 L361.2,473.8 L362.9,471.1 L364.6,468.5 L366.3,465.9 L368.0,463.3 L369.7,460.7 L371.4,458.0 L373.1,455.4 L374.8,452.8 L376.5,450.2 L378.2,447.5 L379.9,444.9 L381.6,442.3 L383.3,439.7 L385.0,437.1 L386.7,434.5 L388.4,431.9 L390.1,429.3 L391.8,426.7 L393.5,424.2 L395.2,421.6 L396.9,419.1 L398.6,416.5 L400.3,414.0 L402.0,411.5 L403.7,409.0 L405.4,406.4 L407.1,403.9 L408.8,401.4 L410.5,399.0 L412.2,396.5 L413.9,394.0 L415.6,391.5 L417.3,389.1 L419.0,386.6 L420.7,384.1 L422.4,381.7 L424.1,379.2 L425.8,376.8 L427.5,374.3 L429.2,371.9 L430.9,369.4 L432.6,367.0 L434.3,364.5 L436.0,362.1 L437.7,359.7 L439.4,357.2 L441.1,354.8 L442.8,352.4 L444.5,349.9 L446.2,347.5 L447.9,345.1 L449.6,342.7 L451.3,340.2 L453.0,337.8 L454.7,335.4 L456.4,333.0 L458.1,330.6 L459.8,328.2 L461.5,325.8 L463.2,323.4 L464.9,321.1 L466.6,318.7 L468.3,316.3 L470.0,313.9 L471.7,311.6 L473.4,309.2 L475.1,306.9 L476.8,304.5 L478.5,302.1 L480.2,299.8 L481.9,297.5 L483.6,295.1 L485.3,292.8 L487.0,290.4 L488.7,288.1 L490.4,285.8 L492.1,283.4 L493.8,281.1 L495.5,278.7 L497.2,276.4 L498.9,274.1 L500.6,271.7 L502.3,269.4 L504.0,267.1 L505.7,264.7 L507.4,262.4 L509.1,260.1 L510.8,257.7 L512.5,255.4 L514.2,253.1 L515.9,250.8 L517.6,248.4 L519.3,246.1 L521.0,243.8 L522.7,241.5 L524.4,239.2 L526.1,236.9 L527.8,234.7 L529.5,232.4 L531.2,230.1 L532.9,227.9 L534.6,225.6 L536.3,223.4 L538.0,221.2 L539.7,219.0 L541.4,216.8 L543.1,214.6 L544.8,212.5 L546.5,210.3 L548.2,208.2 L549.9,206.0 L551.6,203.9 L553.3,201.8 L555.0,199.7 L556.7,197.6 L558.4,195.6 L560.1,193.5 L561.8,191.5 L563.5,189.5 L565.2,187.5 L566.9,185.5 L568.6,183.5 L570.3,181.5 L572.0,179.6 L573.7,177.7 L575.4,175.7 L577.1,173.8 L578.8,172.0 L580.5,170.1 L582.2,168.2 L583.9,166.4 L585.6,164.6 L587.3,162.8 L589.0,161.0 L590.7,159.3 L592.4,157.5 L594.1,155.8 L595.8,154.1 L597.5,152.4 L599.2,150.7 L600.9,149.1 L602.6,147.5 L604.3,145.9 L606.0,144.3 L607.7,142.7 L609.4,141.2 L611.1,139.7 L612.8,138.2 L614.5,136.7 L616.2,135.2 L617.9,133.8 L619.6,132.4 L621.3,131.1 L623.0,129.8 L624.7,128.5 L626.4,127.2 L628.1,126.0 L629.8,124.8 L631.5,123.7 L633.2,122.6 L634.9,121.5 L636.6,120.5 L638.3,119.5 L640.0,118.5 L641.7,117.7 L643.4,116.8 L645.1,116.0 L646.8,115.3 L648.5,114.6 L650.2,114.0 L651.9,113.4 L653.6,112.8 L655.3,112.3 L657.0,111.9 L658.7,111.6 L660.4,111.2 L662.1,111.0 L663.8,110.8 L665.5,110.7 L667.2,110.6 L668.9,110.6 L670.6,110.6 L672.3,110.7 L674.0,110.9 L675.7,111.2 L677.4,111.5 L679.1,111.8 L680.8,112.3 L682.5,112.8 L684.2,113.4 L685.9,114.0 L687.6,114.7 L689.3,115.5 L691.0,116.3 L692.7,117.2 L694.4,118.2 L696.1,119.2 L697.8,120.3 L699.5,121.5 L701.2,122.7 L702.9,124.0 L704.6,125.4 L706.3,126.8 L708.0,128.3 L709.7,129.8 L711.4,131.4 L713.1,133.0 L714.7,134.8 L716.4,136.5 L718.1,138.4 L719.8,140.3 L721.5,142.2 L723.2,144.2 L724.9,146.3 L726.6,148.4 L728.3,150.6 L730.0,152.9 L731.7,155.2 L733.4,157.6 L735.1,160.1 L736.8,162.6 L738.5,165.2 L740.2,167.8 L741.9,170.5 L743.6,173.3 L745.3,176.1 L747.0,179.0 L748.7,182.0 L750.4,185.1 L752.1,188.2 L753.8,191.3 L755.5,194.6 L757.2,197.9 L758.9,201.2 L760.6,204.6 L762.3,208.0 L764.0,211.4 L765.7,214.9 L767.4,218.4 L769.1,221.9 L770.8,225.4 L772.5,228.9 L774.2,232.4 L775.9,236.0 L777.6,239.5 L779.3,243.0 L781.0,246.5 L782.7,250.0 L784.4,253.4 L786.1,256.8 L787.8,260.2 L789.5,263.5 L791.2,266.8 L792.9,270.1 L794.6,273.4 L796.3,276.7 L798.0,279.9 L799.7,283.2 L801.4,286.5 L803.1,289.8 L804.8,293.1 L806.5,296.5 L808.2,299.9 L809.9,303.3 L811.6,306.8 L813.3,310.3 L815.0,313.9 L816.7,317.6 L818.4,321.3 L820.1,325.1 L821.8,329.0 L823.5,333.0 L825.2,337.1 L826.9,341.3 L828.6,345.6 L830.3,350.0 L832.0,354.5 L833.7,359.2 L835.4,364.0 L837.1,368.9 L838.8,374.0 L840.5,379.2 L842.2,384.6 L843.9,390.1 L845.6,395.8 L847.3,401.7 L849.0,407.8 L850.7,414.1 L852.4,420.5 L854.1,427.2 L855.8,434.0 L857.5,441.1" fill="none" stroke="#f00" stroke-width="3.1" stroke-linejoin="round"/>
<path d="M171.20,682.99 L179.40,668.69 L187.60,682.99Z" fill="#f00"/>
<path d="M206.89,668.05 L215.09,653.75 L223.29,668.05Z" fill="#f00"/>
<path d="M242.58,646.13 L250.78,631.83 L258.98,646.13Z" fill="#f00"/>
<path d="M278.27,600.30 L286.47,586.00 L294.67,600.30Z" fill="#f00"/>
<path d="M313.96,539.53 L322.16,525.23 L330.36,539.53Z" fill="#f00"/>
<path d="M349.65,483.73 L357.85,469.43 L366.05,483.73Z" fill="#f00"/>
<path d="M385.34,428.94 L393.54,414.64 L401.74,428.94Z" fill="#f00"/>
<path d="M421.03,376.63 L429.23,362.33 L437.43,376.63Z" fill="#f00"/>
<path d="M456.72,325.82 L464.92,311.52 L473.12,325.82Z" fill="#f00"/>
<path d="M492.41,276.51 L500.61,262.21 L508.81,276.51Z" fill="#f00"/>
<path d="M528.10,228.19 L536.30,213.89 L544.50,228.19Z" fill="#f00"/>
<path d="M563.79,184.35 L571.99,170.05 L580.19,184.35Z" fill="#f00"/>
<path d="M599.48,147.49 L607.68,133.19 L615.88,147.49Z" fill="#f00"/>
<path d="M635.17,121.58 L643.37,107.28 L651.57,121.58Z" fill="#f00"/>
<path d="M670.86,116.60 L679.06,102.30 L687.26,116.60Z" fill="#f00"/>
<path d="M706.55,139.52 L714.75,125.22 L722.95,139.52Z" fill="#f00"/>
<path d="M742.24,189.83 L750.44,175.53 L758.64,189.83Z" fill="#f00"/>
<path d="M777.93,261.56 L786.13,247.26 L794.33,261.56Z" fill="#f00"/>
<path d="M813.62,333.79 L821.82,319.49 L830.02,333.79Z" fill="#f00"/>
<path d="M849.31,445.88 L857.51,431.58 L865.71,445.88Z" fill="#f00"/>
<path d="M179.4,677.2 L181.1,676.4 L182.8,675.5 L184.5,674.7 L186.2,673.9 L187.9,673.1 L189.6,672.3 L191.3,671.5 L193.0,670.7 L194.7,670.0 L196.4,669.2 L198.1,668.4 L199.8,667.6 L201.5,666.9 L203.2,666.1 L204.9,665.3 L206.6,664.5 L208.3,663.7 L210.0,662.9 L211.7,662.0 L213.4,661.2 L215.1,660.3 L216.8,659.4 L218.5,658.5 L220.2,657.5 L221.9,656.6 L223.6,655.5 L225.3,654.5 L227.0,653.4 L228.7,652.3 L230.4,651.2 L232.1,650.0 L233.8,648.8 L235.5,647.5 L237.2,646.2 L238.9,644.9 L240.6,643.5 L242.3,642.0 L244.0,640.5 L245.7,638.9 L247.4,637.3 L249.1,635.6 L250.8,633.9 L252.5,632.1 L254.2,630.2 L255.9,628.3 L257.6,626.3 L259.3,624.3 L261.0,622.2 L262.7,620.0 L264.4,617.8 L266.1,615.6 L267.8,613.3 L269.5,610.9 L271.2,608.5 L272.9,606.1 L274.6,603.6 L276.3,601.1 L278.0,598.5 L279.7,595.9 L281.4,593.2 L283.1,590.5 L284.8,587.8 L286.5,585.1 L288.2,582.3 L289.9,579.5 L291.6,576.6 L293.3,573.8 L295.0,570.9 L296.7,568.0 L298.4,565.1 L300.1,562.1 L301.8,559.2 L303.5,556.2 L305.2,553.2 L306.9,550.3 L308.6,547.3 L310.3,544.3 L312.0,541.4 L313.7,538.4 L315.4,535.5 L317.1,532.5 L318.8,529.6 L320.5,526.7 L322.2,523.8 L323.9,520.9 L325.6,518.1 L327.3,515.3 L329.0,512.5 L330.7,509.7 L332.4,506.9 L334.1,504.2 L335.8,501.5 L337.5,498.8 L339.2,496.1 L340.9,493.5 L342.6,490.9 L344.3,488.3 L346.0,485.7 L347.7,483.2 L349.4,480.7 L351.1,478.2 L352.8,475.7 L354.5,473.3 L356.2,470.9 L357.8,468.5 L359.5,466.2 L361.2,463.8 L362.9,461.5 L364.6,459.3 L366.3,457.0 L368.0,454.8 L369.7,452.5 L371.4,450.3 L373.1,448.1 L374.8,445.9 L376.5,443.7 L378.2,441.5 L379.9,439.3 L381.6,437.2 L383.3,435.0 L385.0,432.8 L386.7,430.6 L388.4,428.4 L390.1,426.2 L391.8,423.9 L393.5,421.7 L395.2,419.4 L396.9,417.1 L398.6,414.8 L400.3,412.5 L402.0,410.2 L403.7,407.9 L405.4,405.5 L407.1,403.1 L408.8,400.7 L410.5,398.3 L412.2,395.9 L413.9,393.5 L415.6,391.1 L417.3,388.7 L419.0,386.2 L420.7,383.8 L422.4,381.3 L424.1,378.8 L425.8,376.3 L427.5,373.9 L429.2,371.4 L430.9,368.9 L432.6,366.4 L434.3,363.9 L436.0,361.4 L437.7,358.9 L439.4,356.4 L441.1,353.9 L442.8,351.4 L444.5,349.0 L446.2,346.5 L447.9,344.0 L449.6,341.6 L451.3,339.2 L453.0,336.8 L454.7,334.4 L456.4,332.0 L458.1,329.7 L459.8,327.4 L461.5,325.1 L463.2,322.8 L464.9,320.6 L466.6,318.3 L468.3,316.2 L470.0,314.0 L471.7,311.9 L473.4,309.8 L475.1,307.7 L476.8,305.6 L478.5,303.5 L480.2,301.5 L481.9,299.5 L483.6,297.4 L485.3,295.4 L487.0,293.4 L488.7,291.4 L490.4,289.4 L492.1,287.4 L493.8,285.4 L495.5,283.3 L497.2,281.3 L498.9,279.3 L500.6,277.2 L502.3,275.2 L504.0,273.1 L505.7,271.0 L507.4,268.9 L509.1,266.8 L510.8,264.7 L512.5,262.6 L514.2,260.5 L515.9,258.4 L517.6,256.2 L519.3,254.1 L521.0,252.0 L522.7,249.9 L524.4,247.8 L526.1,245.7 L527.8,243.6 L529.5,241.5 L531.2,239.5 L532.9,237.4 L534.6,235.4 L536.3,233.4 L538.0,231.4 L539.7,229.4 L541.4,227.4 L543.1,225.5 L544.8,223.6 L546.5,221.6 L548.2,219.7 L549.9,217.9 L551.6,216.0 L553.3,214.1 L555.0,212.3 L556.7,210.5 L558.4,208.6 L560.1,206.8 L561.8,205.0 L563.5,203.3 L565.2,201.5 L566.9,199.7 L568.6,198.0 L570.3,196.3 L572.0,194.5 L573.7,192.8 L575.4,191.1 L577.1,189.4 L578.8,187.7 L580.5,186.1 L582.2,184.4 L583.9,182.8 L585.6,181.2 L587.3,179.6 L589.0,178.0 L590.7,176.5 L592.4,175.0 L594.1,173.5 L595.8,172.1 L597.5,170.7 L599.2,169.3 L600.9,168.0 L602.6,166.7 L604.3,165.5 L606.0,164.3 L607.7,163.1 L609.4,162.0 L611.1,161.0 L612.8,160.0 L614.5,159.0 L616.2,158.1 L617.9,157.2 L619.6,156.3 L621.3,155.5 L623.0,154.8 L624.7,154.0 L626.4,153.4 L628.1,152.7 L629.8,152.1 L631.5,151.5 L633.2,150.9 L634.9,150.4 L636.6,149.9 L638.3,149.4 L640.0,149.0 L641.7,148.6 L643.4,148.2 L645.1,147.8 L646.8,147.5 L648.5,147.2 L650.2,146.9 L651.9,146.7 L653.6,146.5 L655.3,146.3 L657.0,146.2 L658.7,146.1 L660.4,146.1 L662.1,146.1 L663.8,146.2 L665.5,146.3 L667.2,146.5 L668.9,146.8 L670.6,147.1 L672.3,147.5 L674.0,147.9 L675.7,148.4 L677.4,149.0 L679.1,149.7 L680.8,150.4 L682.5,151.3 L684.2,152.2 L685.9,153.2 L687.6,154.2 L689.3,155.4 L691.0,156.6 L692.7,157.9 L694.4,159.2 L696.1,160.6 L697.8,162.1 L699.5,163.7 L701.2,165.3 L702.9,167.0 L704.6,168.7 L706.3,170.6 L708.0,172.4 L709.7,174.4 L711.4,176.4 L713.1,178.5 L714.7,180.6 L716.4,182.8 L718.1,185.0 L719.8,187.3 L721.5,189.6 L723.2,192.0 L724.9,194.5 L726.6,197.0 L728.3,199.6 L730.0,202.2 L731.7,204.9 L733.4,207.6 L735.1,210.4 L736.8,213.3 L738.5,216.2 L740.2,219.1 L741.9,222.1 L743.6,225.2 L745.3,228.3 L747.0,231.4 L748.7,234.6 L750.4,237.9 L752.1,241.2 L753.8,244.5 L755.5,247.9 L757.2,251.3 L758.9,254.8 L760.6,258.2 L762.3,261.7 L764.0,265.2 L765.7,268.7 L767.4,272.3 L769.1,275.8 L770.8,279.3 L772.5,282.8 L774.2,286.2 L775.9,289.7 L777.6,293.1 L779.3,296.5 L781.0,299.8 L782.7,303.1 L784.4,306.4 L786.1,309.6 L787.8,312.7 L789.5,315.8 L791.2,318.9 L792.9,321.9 L794.6,324.8 L796.3,327.8 L798.0,330.7 L799.7,333.6 L801.4,336.5 L803.1,339.5 L804.8,342.4 L806.5,345.3 L808.2,348.3 L809.9,351.3 L811.6,354.4 L813.3,357.5 L815.0,360.6 L816.7,363.8 L818.4,367.1 L820.1,370.4 L821.8,373.9 L823.5,377.4 L825.2,381.0 L826.9,384.7 L828.6,388.5 L830.3,392.5 L832.0,396.6 L833.7,400.8 L835.4,405.1 L837.1,409.6 L838.8,414.2 L840.5,419.1 L842.2,424.0 L843.9,429.2 L845.6,434.5 L847.3,440.0 L849.0,445.7 L850.7,451.6 L852.4,457.8 L854.1,464.1 L855.8,470.7 L857.5,477.5" fill="none" stroke="#f00" stroke-width="3.1" stroke-linejoin="round"/>
<path d="M171.10,668.93L187.70,685.53M171.10,685.53L187.70,668.93" stroke="#f00" stroke-width="3.2" fill="none"/>
<path d="M206.79,651.99L223.39,668.59M206.79,668.59L223.39,651.99" stroke="#f00" stroke-width="3.2" fill="none"/>
<path d="M242.48,625.59L259.08,642.19M242.48,642.19L259.08,625.59" stroke="#f00" stroke-width="3.2" fill="none"/>
<path d="M278.17,576.77L294.77,593.37M278.17,593.37L294.77,576.77" stroke="#f00" stroke-width="3.2" fill="none"/>
<path d="M313.86,515.50L330.46,532.10M313.86,532.10L330.46,515.50" stroke="#f00" stroke-width="3.2" fill="none"/>
<path d="M349.55,460.21L366.15,476.81M349.55,476.81L366.15,460.21" stroke="#f00" stroke-width="3.2" fill="none"/>
<path d="M385.24,413.38L401.84,429.98M385.24,429.98L401.84,413.38" stroke="#f00" stroke-width="3.2" fill="none"/>
<path d="M420.93,363.07L437.53,379.67M420.93,379.67L437.53,363.07" stroke="#f00" stroke-width="3.2" fill="none"/>
<path d="M456.62,312.26L473.22,328.86M456.62,328.86L473.22,312.26" stroke="#f00" stroke-width="3.2" fill="none"/>
<path d="M492.31,268.92L508.91,285.52M492.31,285.52L508.91,268.92" stroke="#f00" stroke-width="3.2" fill="none"/>
<path d="M528.00,225.08L544.60,241.68M528.00,241.68L544.60,225.08" stroke="#f00" stroke-width="3.2" fill="none"/>
<path d="M563.69,186.23L580.29,202.83M563.69,202.83L580.29,186.23" stroke="#f00" stroke-width="3.2" fill="none"/>
<path d="M599.38,154.84L615.98,171.44M599.38,171.44L615.98,154.84" stroke="#f00" stroke-width="3.2" fill="none"/>
<path d="M635.07,139.90L651.67,156.50M635.07,156.50L651.67,139.90" stroke="#f00" stroke-width="3.2" fill="none"/>
<path d="M670.76,141.39L687.36,157.99M670.76,157.99L687.36,141.39" stroke="#f00" stroke-width="3.2" fill="none"/>
<path d="M706.45,172.28L723.05,188.88M706.45,188.88L723.05,172.28" stroke="#f00" stroke-width="3.2" fill="none"/>
<path d="M742.14,229.57L758.74,246.17M742.14,246.17L758.74,229.57" stroke="#f00" stroke-width="3.2" fill="none"/>
<path d="M777.83,301.30L794.43,317.90M777.83,317.90L794.43,301.30" stroke="#f00" stroke-width="3.2" fill="none"/>
<path d="M813.52,365.56L830.12,382.16M813.52,382.16L830.12,365.56" stroke="#f00" stroke-width="3.2" fill="none"/>
<path d="M849.21,469.17L865.81,485.77M849.21,485.77L865.81,469.17" stroke="#f00" stroke-width="3.2" fill="none"/>
<path d="M173.4,692.2 L175.1,691.8 L176.8,691.4 L178.5,691.0 L180.3,690.5 L182.0,690.1 L183.7,689.7 L185.4,689.3 L187.1,688.9 L188.8,688.5 L190.5,688.1 L192.3,687.7 L194.0,687.3 L195.7,686.8 L197.4,686.4 L199.1,686.0 L200.8,685.5 L202.6,685.1 L204.3,684.6 L206.0,684.2 L207.7,683.7 L209.4,683.2 L211.1,682.7 L212.8,682.2 L214.6,681.7 L216.3,681.2 L218.0,680.7 L219.7,680.1 L221.4,679.6 L223.1,679.0 L224.8,678.4 L226.6,677.8 L228.3,677.2 L230.0,676.6 L231.7,676.0 L233.4,675.3 L235.1,674.6 L236.8,674.0 L238.6,673.3 L240.3,672.5 L242.0,671.8 L243.7,671.0 L245.4,670.3 L247.1,669.5 L248.8,668.6 L250.6,667.8 L252.3,666.9 L254.0,666.0 L255.7,665.1 L257.4,664.1 L259.1,663.1 L260.9,662.0 L262.6,661.0 L264.3,659.8 L266.0,658.6 L267.7,657.4 L269.4,656.1 L271.1,654.8 L272.9,653.3 L274.6,651.9 L276.3,650.3 L278.0,648.7 L279.7,647.1 L281.4,645.3 L283.1,643.5 L284.9,641.7 L286.6,639.7 L288.3,637.7 L290.0,635.6 L291.7,633.5 L293.4,631.3 L295.1,629.1 L296.9,626.8 L298.6,624.5 L300.3,622.2 L302.0,619.8 L303.7,617.4 L305.4,615.0 L307.2,612.5 L308.9,610.0 L310.6,607.5 L312.3,605.0 L314.0,602.5 L315.7,600.0 L317.4,597.5 L319.2,595.0 L320.9,592.5 L322.6,590.0 L324.3,587.5 L326.0,585.0 L327.7,582.6 L329.4,580.1 L331.2,577.6 L332.9,575.2 L334.6,572.7 L336.3,570.3 L338.0,567.8 L339.7,565.4 L341.4,563.0 L343.2,560.5 L344.9,558.1 L346.6,555.7 L348.3,553.3 L350.0,551.0 L351.7,548.6 L353.4,546.2 L355.2,543.9 L356.9,541.5 L358.6,539.2 L360.3,536.9 L362.0,534.5 L363.7,532.2 L365.5,529.9 L367.2,527.6 L368.9,525.3 L370.6,523.0 L372.3,520.7 L374.0,518.4 L375.7,516.2 L377.5,513.9 L379.2,511.6 L380.9,509.3 L382.6,507.0 L384.3,504.8 L386.0,502.5 L387.7,500.2 L389.5,497.9 L391.2,495.6 L392.9,493.3 L394.6,491.0 L396.3,488.7 L398.0,486.4 L399.7,484.1 L401.5,481.8 L403.2,479.5 L404.9,477.2 L406.6,474.9 L408.3,472.6 L410.0,470.3 L411.8,467.9 L413.5,465.6 L415.2,463.3 L416.9,461.0 L418.6,458.7 L420.3,456.4 L422.0,454.2 L423.8,451.9 L425.5,449.6 L427.2,447.3 L428.9,445.0 L430.6,442.7 L432.3,440.5 L434.0,438.2 L435.8,435.9 L437.5,433.7 L439.2,431.4 L440.9,429.1 L442.6,426.9 L444.3,424.6 L446.0,422.3 L447.8,420.1 L449.5,417.8 L451.2,415.5 L452.9,413.2 L454.6,410.9 L456.3,408.7 L458.1,406.4 L459.8,404.1 L461.5,401.8 L463.2,399.4 L464.9,397.1 L466.6,394.8 L468.3,392.5 L470.1,390.1 L471.8,387.8 L473.5,385.4 L475.2,383.1 L476.9,380.7 L478.6,378.4 L480.3,376.0 L482.1,373.7 L483.8,371.3 L485.5,368.9 L487.2,366.6 L488.9,364.2 L490.6,361.9 L492.3,359.5 L494.1,357.1 L495.8,354.8 L497.5,352.4 L499.2,350.1 L500.9,347.7 L502.6,345.4 L504.3,343.1 L506.1,340.7 L507.8,338.4 L509.5,336.0 L511.2,333.7 L512.9,331.4 L514.6,329.0 L516.4,326.7 L518.1,324.3 L519.8,322.0 L521.5,319.6 L523.2,317.3 L524.9,314.9 L526.6,312.6 L528.4,310.2 L530.1,307.9 L531.8,305.5 L533.5,303.1 L535.2,300.7 L536.9,298.4 L538.6,296.0 L540.4,293.6 L542.1,291.2 L543.8,288.8 L545.5,286.4 L547.2,284.0 L548.9,281.6 L550.6,279.2 L552.4,276.8 L554.1,274.3 L555.8,271.9 L557.5,269.5 L559.2,267.1 L560.9,264.7 L562.7,262.3 L564.4,260.0 L566.1,257.6 L567.8,255.2 L569.5,252.8 L571.2,250.4 L572.9,248.1 L574.7,245.7 L576.4,243.4 L578.1,241.0 L579.8,238.7 L581.5,236.4 L583.2,234.1 L584.9,231.8 L586.7,229.5 L588.4,227.2 L590.1,225.0 L591.8,222.8 L593.5,220.5 L595.2,218.3 L596.9,216.1 L598.7,214.0 L600.4,211.8 L602.1,209.7 L603.8,207.6 L605.5,205.5 L607.2,203.4 L608.9,201.4 L610.7,199.4 L612.4,197.4 L614.1,195.4 L615.8,193.4 L617.5,191.5 L619.2,189.6 L621.0,187.7 L622.7,185.9 L624.4,184.1 L626.1,182.3 L627.8,180.5 L629.5,178.8 L631.2,177.1 L633.0,175.5 L634.7,173.8 L636.4,172.2 L638.1,170.7 L639.8,169.1 L641.5,167.6 L643.2,166.2 L645.0,164.7 L646.7,163.3 L648.4,162.0 L650.1,160.7 L651.8,159.4 L653.5,158.1 L655.2,156.9 L657.0,155.8 L658.7,154.7 L660.4,153.6 L662.1,152.5 L663.8,151.5 L665.5,150.6 L667.3,149.7 L669.0,148.8 L670.7,148.0 L672.4,147.2 L674.1,146.5 L675.8,145.8 L677.5,145.2 L679.3,144.6 L681.0,144.1 L682.7,143.6 L684.4,143.2 L686.1,142.8 L687.8,142.5 L689.5,142.2 L691.3,142.0 L693.0,141.8 L694.7,141.7 L696.4,141.6 L698.1,141.6 L699.8,141.6 L701.5,141.7 L703.3,141.8 L705.0,142.0 L706.7,142.2 L708.4,142.5 L710.1,142.9 L711.8,143.3 L713.5,143.7 L715.3,144.2 L717.0,144.8 L718.7,145.4 L720.4,146.1 L722.1,146.8 L723.8,147.6 L725.6,148.5 L727.3,149.4 L729.0,150.4 L730.7,151.5 L732.4,152.7 L734.1,153.9 L735.8,155.2 L737.6,156.6 L739.3,158.0 L741.0,159.6 L742.7,161.2 L744.4,162.9 L746.1,164.7 L747.8,166.6 L749.6,168.6 L751.3,170.7 L753.0,172.9 L754.7,175.1 L756.4,177.4 L758.1,179.8 L759.8,182.3 L761.6,184.8 L763.3,187.3 L765.0,189.9 L766.7,192.6 L768.4,195.2 L770.1,197.9 L771.9,200.6 L773.6,203.3 L775.3,206.0 L777.0,208.7 L778.7,211.4 L780.4,214.1 L782.1,216.7 L783.9,219.3 L785.6,221.9 L787.3,224.5 L789.0,227.0 L790.7,229.5 L792.4,231.9 L794.1,234.3 L795.9,236.8 L797.6,239.2 L799.3,241.6 L801.0,244.1 L802.7,246.6 L804.4,249.1 L806.1,251.6 L807.9,254.2 L809.6,256.8 L811.3,259.5 L813.0,262.3 L814.7,265.1 L816.4,268.0 L818.2,271.0 L819.9,274.0 L821.6,277.2 L823.3,280.5 L825.0,283.9 L826.7,287.3 L828.4,290.9 L830.2,294.4 L831.9,298.0 L833.6,301.7 L835.3,305.4 L837.0,309.0 L838.7,312.7 L840.4,316.5 L842.2,320.5 L843.9,324.9 L845.6,329.7 L847.3,335.1 L849.0,341.3 L850.7,348.3 L852.4,356.2 L854.2,365.2 L855.9,375.3 L857.6,386.8" fill="none" stroke="#00f" stroke-width="3.1" stroke-linejoin="round"/>
<path d="M178.07,684.17 L164.07,692.17 L178.07,700.17Z" fill="#00f"/>
<path d="M214.08,675.21 L200.08,683.21 L214.08,691.21Z" fill="#00f"/>
<path d="M250.09,662.25 L236.09,670.25 L250.09,678.25Z" fill="#00f"/>
<path d="M286.10,637.35 L272.10,645.35 L286.10,653.35Z" fill="#00f"/>
<path d="M322.11,589.53 L308.11,597.53 L322.11,605.53Z" fill="#00f"/>
<path d="M358.12,538.22 L344.12,546.22 L358.12,554.22Z" fill="#00f"/>
<path d="M394.13,489.90 L380.13,497.90 L394.13,505.90Z" fill="#00f"/>
<path d="M430.14,441.58 L416.14,449.58 L430.14,457.58Z" fill="#00f"/>
<path d="M466.15,393.76 L452.15,401.76 L466.15,409.76Z" fill="#00f"/>
<path d="M502.16,344.44 L488.16,352.44 L502.16,360.44Z" fill="#00f"/>
<path d="M538.17,295.12 L524.17,303.12 L538.17,311.12Z" fill="#00f"/>
<path d="M574.18,244.81 L560.18,252.81 L574.18,260.81Z" fill="#00f"/>
<path d="M610.19,197.49 L596.19,205.49 L610.19,213.49Z" fill="#00f"/>
<path d="M646.20,159.63 L632.20,167.63 L646.20,175.63Z" fill="#00f"/>
<path d="M682.21,137.21 L668.21,145.21 L682.21,153.21Z" fill="#00f"/>
<path d="M718.22,135.72 L704.22,143.72 L718.22,151.72Z" fill="#00f"/>
<path d="M754.23,160.62 L740.23,168.62 L754.23,176.62Z" fill="#00f"/>
<path d="M790.24,213.93 L776.24,221.93 L790.24,229.93Z" fill="#00f"/>
<path d="M826.25,269.22 L812.25,277.22 L826.25,285.22Z" fill="#00f"/>
<path d="M862.26,378.81 L848.26,386.81 L862.26,394.81Z" fill="#00f"/>
<path d="M173.4,692.2 L175.1,691.8 L176.8,691.5 L178.5,691.1 L180.3,690.7 L182.0,690.3 L183.7,689.9 L185.4,689.6 L187.1,689.2 L188.8,688.7 L190.5,688.3 L192.3,687.9 L194.0,687.5 L195.7,687.0 L197.4,686.6 L199.1,686.1 L200.8,685.7 L202.6,685.2 L204.3,684.7 L206.0,684.2 L207.7,683.7 L209.4,683.2 L211.1,682.7 L212.8,682.2 L214.6,681.6 L216.3,681.1 L218.0,680.5 L219.7,679.9 L221.4,679.3 L223.1,678.7 L224.8,678.1 L226.6,677.5 L228.3,676.8 L230.0,676.2 L231.7,675.5 L233.4,674.9 L235.1,674.2 L236.8,673.5 L238.6,672.8 L240.3,672.0 L242.0,671.3 L243.7,670.5 L245.4,669.8 L247.1,669.0 L248.8,668.2 L250.6,667.3 L252.3,666.5 L254.0,665.6 L255.7,664.7 L257.4,663.7 L259.1,662.8 L260.9,661.7 L262.6,660.6 L264.3,659.5 L266.0,658.3 L267.7,657.1 L269.4,655.8 L271.1,654.5 L272.9,653.1 L274.6,651.6 L276.3,650.0 L278.0,648.4 L279.7,646.6 L281.4,644.8 L283.1,643.0 L284.9,641.0 L286.6,639.0 L288.3,636.8 L290.0,634.7 L291.7,632.4 L293.4,630.1 L295.1,627.8 L296.9,625.4 L298.6,623.0 L300.3,620.5 L302.0,618.0 L303.7,615.5 L305.4,612.9 L307.2,610.4 L308.9,607.8 L310.6,605.2 L312.3,602.7 L314.0,600.1 L315.7,597.6 L317.4,595.0 L319.2,592.5 L320.9,590.0 L322.6,587.6 L324.3,585.1 L326.0,582.7 L327.7,580.3 L329.4,577.8 L331.2,575.5 L332.9,573.1 L334.6,570.7 L336.3,568.4 L338.0,566.0 L339.7,563.7 L341.4,561.4 L343.2,559.0 L344.9,556.7 L346.6,554.4 L348.3,552.1 L350.0,549.8 L351.7,547.5 L353.4,545.2 L355.2,542.9 L356.9,540.6 L358.6,538.3 L360.3,536.0 L362.0,533.7 L363.7,531.4 L365.5,529.1 L367.2,526.8 L368.9,524.5 L370.6,522.2 L372.3,519.9 L374.0,517.6 L375.7,515.3 L377.5,513.0 L379.2,510.7 L380.9,508.4 L382.6,506.1 L384.3,503.8 L386.0,501.5 L387.7,499.2 L389.5,496.9 L391.2,494.6 L392.9,492.3 L394.6,490.0 L396.3,487.7 L398.0,485.4 L399.7,483.1 L401.5,480.8 L403.2,478.6 L404.9,476.3 L406.6,474.0 L408.3,471.7 L410.0,469.4 L411.8,467.2 L413.5,464.9 L415.2,462.6 L416.9,460.4 L418.6,458.1 L420.3,455.8 L422.0,453.6 L423.8,451.3 L425.5,449.1 L427.2,446.8 L428.9,444.6 L430.6,442.4 L432.3,440.1 L434.0,437.9 L435.8,435.7 L437.5,433.4 L439.2,431.2 L440.9,428.9 L442.6,426.7 L444.3,424.5 L446.0,422.2 L447.8,420.0 L449.5,417.7 L451.2,415.5 L452.9,413.2 L454.6,410.9 L456.3,408.6 L458.1,406.4 L459.8,404.1 L461.5,401.8 L463.2,399.4 L464.9,397.1 L466.6,394.8 L468.3,392.4 L470.1,390.1 L471.8,387.7 L473.5,385.4 L475.2,383.0 L476.9,380.7 L478.6,378.3 L480.3,375.9 L482.1,373.6 L483.8,371.2 L485.5,368.8 L487.2,366.5 L488.9,364.1 L490.6,361.8 L492.3,359.4 L494.1,357.1 L495.8,354.8 L497.5,352.4 L499.2,350.1 L500.9,347.8 L502.6,345.5 L504.3,343.2 L506.1,340.9 L507.8,338.7 L509.5,336.4 L511.2,334.1 L512.9,331.8 L514.6,329.6 L516.4,327.3 L518.1,325.0 L519.8,322.7 L521.5,320.4 L523.2,318.1 L524.9,315.8 L526.6,313.5 L528.4,311.2 L530.1,308.8 L531.8,306.5 L533.5,304.1 L535.2,301.7 L536.9,299.4 L538.6,297.0 L540.4,294.5 L542.1,292.1 L543.8,289.7 L545.5,287.3 L547.2,284.9 L548.9,282.4 L550.6,280.0 L552.4,277.6 L554.1,275.1 L555.8,272.7 L557.5,270.3 L559.2,267.9 L560.9,265.5 L562.7,263.2 L564.4,260.8 L566.1,258.4 L567.8,256.1 L569.5,253.8 L571.2,251.5 L572.9,249.3 L574.7,247.0 L576.4,244.8 L578.1,242.6 L579.8,240.4 L581.5,238.2 L583.2,236.1 L584.9,234.0 L586.7,231.9 L588.4,229.8 L590.1,227.7 L591.8,225.7 L593.5,223.6 L595.2,221.6 L596.9,219.6 L598.7,217.7 L600.4,215.7 L602.1,213.8 L603.8,211.9 L605.5,210.0 L607.2,208.1 L608.9,206.2 L610.7,204.4 L612.4,202.6 L614.1,200.8 L615.8,199.0 L617.5,197.2 L619.2,195.5 L621.0,193.8 L622.7,192.1 L624.4,190.4 L626.1,188.7 L627.8,187.1 L629.5,185.5 L631.2,184.0 L633.0,182.4 L634.7,180.9 L636.4,179.4 L638.1,177.9 L639.8,176.5 L641.5,175.1 L643.2,173.7 L645.0,172.4 L646.7,171.1 L648.4,169.8 L650.1,168.5 L651.8,167.3 L653.5,166.2 L655.2,165.0 L657.0,163.9 L658.7,162.9 L660.4,161.9 L662.1,160.9 L663.8,159.9 L665.5,159.1 L667.3,158.2 L669.0,157.4 L670.7,156.7 L672.4,156.0 L674.1,155.3 L675.8,154.7 L677.5,154.2 L679.3,153.7 L681.0,153.2 L682.7,152.9 L684.4,152.5 L686.1,152.2 L687.8,152.0 L689.5,151.8 L691.3,151.7 L693.0,151.6 L694.7,151.6 L696.4,151.6 L698.1,151.7 L699.8,151.8 L701.5,152.0 L703.3,152.2 L705.0,152.5 L706.7,152.9 L708.4,153.2 L710.1,153.7 L711.8,154.1 L713.5,154.7 L715.3,155.3 L717.0,155.9 L718.7,156.6 L720.4,157.3 L722.1,158.1 L723.8,159.0 L725.6,159.9 L727.3,160.9 L729.0,161.9 L730.7,163.0 L732.4,164.2 L734.1,165.5 L735.8,166.8 L737.6,168.3 L739.3,169.8 L741.0,171.3 L742.7,173.0 L744.4,174.8 L746.1,176.6 L747.8,178.5 L749.6,180.6 L751.3,182.7 L753.0,184.9 L754.7,187.2 L756.4,189.6 L758.1,192.1 L759.8,194.6 L761.6,197.1 L763.3,199.7 L765.0,202.4 L766.7,205.1 L768.4,207.8 L770.1,210.6 L771.9,213.4 L773.6,216.2 L775.3,218.9 L777.0,221.7 L778.7,224.5 L780.4,227.3 L782.1,230.0 L783.9,232.7 L785.6,235.4 L787.3,238.0 L789.0,240.6 L790.7,243.2 L792.4,245.7 L794.1,248.2 L795.9,250.7 L797.6,253.2 L799.3,255.7 L801.0,258.3 L802.7,260.8 L804.4,263.3 L806.1,265.8 L807.9,268.4 L809.6,271.0 L811.3,273.7 L813.0,276.4 L814.7,279.1 L816.4,281.9 L818.2,284.8 L819.9,287.7 L821.6,290.7 L823.3,293.7 L825.0,296.9 L826.7,300.1 L828.4,303.4 L830.2,306.8 L831.9,310.2 L833.6,313.7 L835.3,317.3 L837.0,321.0 L838.7,324.7 L840.4,328.5 L842.2,332.4 L843.9,336.6 L845.6,341.2 L847.3,346.3 L849.0,352.2 L850.7,358.9 L852.4,366.6 L854.2,375.5 L855.9,385.7 L857.6,397.3" fill="none" stroke="#00f" stroke-width="3.1" stroke-linejoin="round"/>
<circle cx="173.40" cy="692.17" r="6.80" fill="#00f"/>
<circle cx="209.41" cy="683.21" r="6.80" fill="#00f"/>
<circle cx="245.42" cy="669.76" r="6.80" fill="#00f"/>
<circle cx="281.43" cy="644.85" r="6.80" fill="#00f"/>
<circle cx="317.44" cy="595.03" r="6.80" fill="#00f"/>
<circle cx="353.45" cy="545.22" r="6.80" fill="#00f"/>
<circle cx="389.46" cy="496.90" r="6.80" fill="#00f"/>
<circle cx="425.47" cy="449.08" r="6.80" fill="#00f"/>
<circle cx="461.48" cy="401.76" r="6.80" fill="#00f"/>
<circle cx="497.49" cy="352.44" r="6.80" fill="#00f"/>
<circle cx="533.50" cy="304.12" r="6.80" fill="#00f"/>
<circle cx="569.51" cy="253.81" r="6.80" fill="#00f"/>
<circle cx="605.52" cy="209.97" r="6.80" fill="#00f"/>
<circle cx="641.53" cy="175.10" r="6.80" fill="#00f"/>
<circle cx="677.54" cy="154.18" r="6.80" fill="#00f"/>
<circle cx="713.55" cy="154.68" r="6.80" fill="#00f"/>
<circle cx="749.56" cy="180.58" r="6.80" fill="#00f"/>
<circle cx="785.57" cy="235.38" r="6.80" fill="#00f"/>
<circle cx="821.58" cy="290.67" r="6.80" fill="#00f"/>
<circle cx="857.59" cy="397.27" r="6.80" fill="#00f"/>
<path d="M173.4,692.2 L175.1,691.8 L176.8,691.4 L178.5,690.9 L180.3,690.5 L182.0,690.1 L183.7,689.7 L185.4,689.2 L187.1,688.8 L188.8,688.3 L190.5,687.9 L192.3,687.4 L194.0,686.9 L195.7,686.4 L197.4,685.9 L199.1,685.4 L200.8,684.9 L202.6,684.4 L204.3,683.9 L206.0,683.3 L207.7,682.8 L209.4,682.2 L211.1,681.6 L212.8,681.0 L214.6,680.4 L216.3,679.8 L218.0,679.2 L219.7,678.6 L221.4,677.9 L223.1,677.3 L224.8,676.6 L226.6,675.9 L228.3,675.2 L230.0,674.5 L231.7,673.7 L233.4,673.0 L235.1,672.2 L236.8,671.4 L238.6,670.6 L240.3,669.8 L242.0,669.0 L243.7,668.1 L245.4,667.3 L247.1,666.4 L248.8,665.5 L250.6,664.5 L252.3,663.6 L254.0,662.6 L255.7,661.6 L257.4,660.5 L259.1,659.4 L260.9,658.3 L262.6,657.1 L264.3,655.8 L266.0,654.5 L267.7,653.2 L269.4,651.8 L271.1,650.3 L272.9,648.7 L274.6,647.1 L276.3,645.4 L278.0,643.6 L279.7,641.8 L281.4,639.9 L283.1,637.8 L284.9,635.7 L286.6,633.6 L288.3,631.3 L290.0,629.0 L291.7,626.7 L293.4,624.2 L295.1,621.8 L296.9,619.3 L298.6,616.7 L300.3,614.1 L302.0,611.5 L303.7,608.9 L305.4,606.3 L307.2,603.7 L308.9,601.0 L310.6,598.4 L312.3,595.8 L314.0,593.2 L315.7,590.6 L317.4,588.1 L319.2,585.5 L320.9,583.1 L322.6,580.6 L324.3,578.2 L326.0,575.8 L327.7,573.4 L329.4,571.0 L331.2,568.7 L332.9,566.4 L334.6,564.1 L336.3,561.8 L338.0,559.5 L339.7,557.2 L341.4,555.0 L343.2,552.7 L344.9,550.5 L346.6,548.2 L348.3,546.0 L350.0,543.7 L351.7,541.5 L353.4,539.2 L355.2,537.0 L356.9,534.7 L358.6,532.4 L360.3,530.2 L362.0,527.9 L363.7,525.6 L365.5,523.3 L367.2,521.0 L368.9,518.7 L370.6,516.5 L372.3,514.2 L374.0,511.9 L375.7,509.6 L377.5,507.3 L379.2,505.0 L380.9,502.7 L382.6,500.5 L384.3,498.2 L386.0,495.9 L387.7,493.7 L389.5,491.4 L391.2,489.2 L392.9,486.9 L394.6,484.7 L396.3,482.5 L398.0,480.3 L399.7,478.1 L401.5,475.9 L403.2,473.7 L404.9,471.5 L406.6,469.3 L408.3,467.1 L410.0,465.0 L411.8,462.8 L413.5,460.6 L415.2,458.5 L416.9,456.3 L418.6,454.2 L420.3,452.0 L422.0,449.9 L423.8,447.7 L425.5,445.6 L427.2,443.5 L428.9,441.3 L430.6,439.2 L432.3,437.1 L434.0,434.9 L435.8,432.8 L437.5,430.7 L439.2,428.5 L440.9,426.4 L442.6,424.3 L444.3,422.1 L446.0,420.0 L447.8,417.9 L449.5,415.8 L451.2,413.6 L452.9,411.5 L454.6,409.3 L456.3,407.2 L458.1,405.1 L459.8,402.9 L461.5,400.8 L463.2,398.6 L464.9,396.4 L466.6,394.3 L468.3,392.1 L470.1,390.0 L471.8,387.8 L473.5,385.6 L475.2,383.4 L476.9,381.3 L478.6,379.1 L480.3,376.9 L482.1,374.7 L483.8,372.5 L485.5,370.3 L487.2,368.1 L488.9,365.9 L490.6,363.7 L492.3,361.5 L494.1,359.3 L495.8,357.1 L497.5,354.9 L499.2,352.7 L500.9,350.5 L502.6,348.3 L504.3,346.1 L506.1,343.9 L507.8,341.7 L509.5,339.5 L511.2,337.2 L512.9,335.0 L514.6,332.8 L516.4,330.6 L518.1,328.3 L519.8,326.1 L521.5,323.9 L523.2,321.6 L524.9,319.4 L526.6,317.1 L528.4,314.9 L530.1,312.6 L531.8,310.4 L533.5,308.1 L535.2,305.8 L536.9,303.6 L538.6,301.3 L540.4,299.0 L542.1,296.7 L543.8,294.5 L545.5,292.2 L547.2,289.9 L548.9,287.7 L550.6,285.4 L552.4,283.2 L554.1,281.0 L555.8,278.8 L557.5,276.6 L559.2,274.4 L560.9,272.2 L562.7,270.1 L564.4,268.0 L566.1,265.9 L567.8,263.8 L569.5,261.8 L571.2,259.8 L572.9,257.8 L574.7,255.8 L576.4,253.9 L578.1,251.9 L579.8,250.1 L581.5,248.2 L583.2,246.3 L584.9,244.5 L586.7,242.7 L588.4,240.9 L590.1,239.1 L591.8,237.4 L593.5,235.7 L595.2,233.9 L596.9,232.2 L598.7,230.5 L600.4,228.9 L602.1,227.2 L603.8,225.6 L605.5,223.9 L607.2,222.3 L608.9,220.7 L610.7,219.1 L612.4,217.5 L614.1,215.9 L615.8,214.4 L617.5,212.8 L619.2,211.3 L621.0,209.8 L622.7,208.4 L624.4,207.0 L626.1,205.5 L627.8,204.2 L629.5,202.8 L631.2,201.5 L633.0,200.3 L634.7,199.0 L636.4,197.8 L638.1,196.7 L639.8,195.6 L641.5,194.5 L643.2,193.5 L645.0,192.5 L646.7,191.6 L648.4,190.7 L650.1,189.9 L651.8,189.1 L653.5,188.4 L655.2,187.7 L657.0,187.0 L658.7,186.4 L660.4,185.8 L662.1,185.3 L663.8,184.8 L665.5,184.4 L667.3,184.0 L669.0,183.7 L670.7,183.4 L672.4,183.1 L674.1,182.9 L675.8,182.7 L677.5,182.6 L679.3,182.5 L681.0,182.4 L682.7,182.4 L684.4,182.5 L686.1,182.5 L687.8,182.7 L689.5,182.8 L691.3,183.0 L693.0,183.3 L694.7,183.6 L696.4,183.9 L698.1,184.3 L699.8,184.8 L701.5,185.3 L703.3,185.8 L705.0,186.4 L706.7,187.0 L708.4,187.7 L710.1,188.4 L711.8,189.2 L713.5,190.0 L715.3,190.9 L717.0,191.9 L718.7,192.8 L720.4,193.9 L722.1,195.0 L723.8,196.1 L725.6,197.4 L727.3,198.7 L729.0,200.0 L730.7,201.4 L732.4,202.9 L734.1,204.5 L735.8,206.1 L737.6,207.8 L739.3,209.6 L741.0,211.4 L742.7,213.4 L744.4,215.4 L746.1,217.5 L747.8,219.7 L749.6,221.9 L751.3,224.3 L753.0,226.7 L754.7,229.2 L756.4,231.8 L758.1,234.5 L759.8,237.2 L761.6,239.9 L763.3,242.7 L765.0,245.5 L766.7,248.3 L768.4,251.1 L770.1,254.0 L771.9,256.8 L773.6,259.7 L775.3,262.5 L777.0,265.3 L778.7,268.1 L780.4,270.8 L782.1,273.5 L783.9,276.1 L785.6,278.7 L787.3,281.2 L789.0,283.7 L790.7,286.1 L792.4,288.5 L794.1,290.8 L795.9,293.1 L797.6,295.4 L799.3,297.7 L801.0,300.0 L802.7,302.3 L804.4,304.6 L806.1,306.9 L807.9,309.3 L809.6,311.7 L811.3,314.2 L813.0,316.7 L814.7,319.3 L816.4,322.0 L818.2,324.7 L819.9,327.6 L821.6,330.5 L823.3,333.6 L825.0,336.8 L826.7,340.1 L828.4,343.5 L830.2,347.1 L831.9,350.8 L833.6,354.7 L835.3,358.8 L837.0,363.0 L838.7,367.4 L840.4,372.0 L842.2,376.8 L843.9,381.9 L845.6,387.1 L847.3,392.6 L849.0,398.3 L850.7,404.2 L852.4,410.4 L854.2,416.9 L855.9,423.6 L857.6,430.6" fill="none" stroke="#00f" stroke-width="3.1" stroke-linejoin="round"/>
<path d="M173.40,683.27 L175.49,689.70 L182.24,689.70 L176.78,693.67 L178.87,700.10 L173.40,696.13 L167.93,700.10 L170.02,693.67 L164.56,689.70 L171.31,689.70Z" fill="#00f"/>
<path d="M209.41,673.31 L211.50,679.74 L218.25,679.74 L212.79,683.71 L214.88,690.13 L209.41,686.16 L203.94,690.13 L206.03,683.71 L200.57,679.74 L207.32,679.74Z" fill="#00f"/>
<path d="M245.42,658.37 L247.51,664.79 L254.26,664.79 L248.80,668.76 L250.89,675.19 L245.42,671.22 L239.95,675.19 L242.04,668.76 L236.58,664.79 L243.33,664.79Z" fill="#00f"/>
<path d="M281.43,630.97 L283.52,637.39 L290.27,637.39 L284.81,641.37 L286.90,647.79 L281.43,643.82 L275.96,647.79 L278.05,641.37 L272.59,637.39 L279.34,637.39Z" fill="#00f"/>
<path d="M317.44,579.16 L319.53,585.59 L326.28,585.59 L320.82,589.56 L322.91,595.98 L317.44,592.01 L311.97,595.98 L314.06,589.56 L308.60,585.59 L315.35,585.59Z" fill="#00f"/>
<path d="M353.45,530.34 L355.54,536.77 L362.29,536.77 L356.83,540.74 L358.92,547.17 L353.45,543.20 L347.98,547.17 L350.07,540.74 L344.61,536.77 L351.36,536.77Z" fill="#00f"/>
<path d="M389.46,482.52 L391.55,488.95 L398.30,488.95 L392.84,492.92 L394.93,499.34 L389.46,495.37 L383.99,499.34 L386.08,492.92 L380.62,488.95 L387.37,488.95Z" fill="#00f"/>
<path d="M425.47,436.69 L427.56,443.12 L434.31,443.12 L428.85,447.09 L430.94,453.52 L425.47,449.54 L420.00,453.52 L422.09,447.09 L416.63,443.12 L423.38,443.12Z" fill="#00f"/>
<path d="M461.48,391.86 L463.57,398.28 L470.32,398.28 L464.86,402.26 L466.95,408.68 L461.48,404.71 L456.01,408.68 L458.10,402.26 L452.64,398.28 L459.39,398.28Z" fill="#00f"/>
<path d="M497.49,346.03 L499.58,352.46 L506.33,352.46 L500.87,356.43 L502.96,362.85 L497.49,358.88 L492.02,362.85 L494.11,356.43 L488.65,352.46 L495.40,352.46Z" fill="#00f"/>
<path d="M533.50,299.20 L535.59,305.63 L542.34,305.63 L536.88,309.60 L538.97,316.03 L533.50,312.06 L528.03,316.03 L530.12,309.60 L524.66,305.63 L531.41,305.63Z" fill="#00f"/>
<path d="M569.51,252.88 L571.60,259.30 L578.35,259.30 L572.89,263.27 L574.98,269.70 L569.51,265.73 L564.04,269.70 L566.13,263.27 L560.67,259.30 L567.42,259.30Z" fill="#00f"/>
<path d="M605.52,215.02 L607.61,221.44 L614.36,221.44 L608.90,225.42 L610.99,231.84 L605.52,227.87 L600.05,231.84 L602.14,225.42 L596.68,221.44 L603.43,221.44Z" fill="#00f"/>
<path d="M641.53,185.63 L643.62,192.05 L650.37,192.05 L644.91,196.03 L647.00,202.45 L641.53,198.48 L636.06,202.45 L638.15,196.03 L632.69,192.05 L639.44,192.05Z" fill="#00f"/>
<path d="M677.54,173.67 L679.63,180.10 L686.38,180.10 L680.92,184.07 L683.01,190.50 L677.54,186.52 L672.07,190.50 L674.16,184.07 L668.70,180.10 L675.45,180.10Z" fill="#00f"/>
<path d="M713.55,181.14 L715.64,187.57 L722.39,187.57 L716.93,191.54 L719.02,197.97 L713.55,194.00 L708.08,197.97 L710.17,191.54 L704.71,187.57 L711.46,187.57Z" fill="#00f"/>
<path d="M749.56,213.03 L751.65,219.45 L758.40,219.45 L752.94,223.42 L755.03,229.85 L749.56,225.88 L744.09,229.85 L746.18,223.42 L740.72,219.45 L747.47,219.45Z" fill="#00f"/>
<path d="M785.57,269.81 L787.66,276.24 L794.41,276.24 L788.95,280.21 L791.04,286.64 L785.57,282.67 L780.10,286.64 L782.19,280.21 L776.73,276.24 L783.48,276.24Z" fill="#00f"/>
<path d="M821.58,321.62 L823.67,328.05 L830.42,328.05 L824.96,332.02 L827.05,338.44 L821.58,334.47 L816.11,338.44 L818.20,332.02 L812.74,328.05 L819.49,328.05Z" fill="#00f"/>
<path d="M857.59,421.75 L859.68,428.17 L866.43,428.17 L860.97,432.15 L863.06,438.57 L857.59,434.60 L852.12,438.57 L854.21,432.15 L848.75,428.17 L855.50,428.17Z" fill="#00f"/>
<g stroke="#262626" stroke-width="1.5" fill="none">
<path d="M119.5,711.5H959.5V14.5H119.5Z"/>
<path d="M119.5,711.5V694.5M119.5,14.5V31.5"/>
<path d="M239.5,711.5V694.5M239.5,14.5V31.5"/>
<path d="M359.5,711.5V694.5M359.5,14.5V31.5"/>
<path d="M479.5,711.5V694.5M479.5,14.5V31.5"/>
<path d="M599.5,711.5V694.5M599.5,14.5V31.5"/>
<path d="M719.5,711.5V694.5M719.5,14.5V31.5"/>
<path d="M839.5,711.5V694.5M839.5,14.5V31.5"/>
<path d="M959.5,711.5V694.5M959.5,14.5V31.5"/>
<path d="M119.5,711.5H136.5M959.5,711.5H942.5"/>
<path d="M119.5,611.5H136.5M959.5,611.5H942.5"/>
<path d="M119.5,512.5H136.5M959.5,512.5H942.5"/>
<path d="M119.5,412.5H136.5M959.5,412.5H942.5"/>
<path d="M119.5,313.5H136.5M959.5,313.5H942.5"/>
<path d="M119.5,213.5H136.5M959.5,213.5H942.5"/>
<path d="M119.5,113.5H136.5M959.5,113.5H942.5"/>
<path d="M119.5,14.5H136.5M959.5,14.5H942.5"/>
</g>
<g font-family="Liberation Sans" font-weight="bold" font-size="30" fill="#262626">
<text transform="translate(119.50,752.5) scale(1,1.08)" text-anchor="middle">0</text>
<text transform="translate(239.50,752.5) scale(1,1.08)" text-anchor="middle">2</text>
<text transform="translate(359.50,752.5) scale(1,1.08)" text-anchor="middle">4</text>
<text transform="translate(479.50,752.5) scale(1,1.08)" text-anchor="middle">6</text>
<text transform="translate(599.50,752.5) scale(1,1.08)" text-anchor="middle">8</text>
<text transform="translate(719.50,752.5) scale(1,1.08)" text-anchor="middle">10</text>
<text transform="translate(839.50,752.5) scale(1,1.08)" text-anchor="middle">12</text>
<text transform="translate(959.50,752.5) scale(1,1.08)" text-anchor="middle">14</text>
<text transform="translate(108.6,724.20) scale(1,1.08)" text-anchor="end">500</text>
<text transform="translate(108.6,624.57) scale(1,1.08)" text-anchor="end">700</text>
<text transform="translate(108.6,524.94) scale(1,1.08)" text-anchor="end">900</text>
<text transform="translate(108.6,425.31) scale(1,1.08)" text-anchor="end">1100</text>
<text transform="translate(108.6,325.69) scale(1,1.08)" text-anchor="end">1300</text>
<text transform="translate(108.6,226.06) scale(1,1.08)" text-anchor="end">1500</text>
<text transform="translate(108.6,126.43) scale(1,1.08)" text-anchor="end">1700</text>
<text transform="translate(108.6,26.80) scale(1,1.08)" text-anchor="end">1900</text>
</g>
<text x="539.5" y="793" text-anchor="middle" font-family="Liberation Sans" font-weight="bold" font-size="33.5" fill="#262626">Height from bottom of hot plenum [m]</text>
<text transform="translate(28.5,365.5) rotate(-90)" x="0" y="0" text-anchor="middle" font-family="Liberation Sans" font-weight="bold" font-size="33.5" fill="#262626">Temperature [K]</text>
<path d="M293.6,711.6V319.2" stroke="#000" stroke-width="3" stroke-dasharray="9 9.26" stroke-dashoffset="0" fill="none"/>
<path d="M767.4,711.6V14.2" stroke="#000" stroke-width="3" stroke-dasharray="9 9.26" fill="none"/>
<g stroke="#1a1a1a" stroke-width="1.3" fill="none"><path d="M406,650.7H306"/><path d="M664,651H759"/></g>
<path d="M299.8,650.7 L315.3,645.5 L311,650.7 L315.3,656.9Z" fill="#000"/>
<path d="M765.3,650.5 L749.8,645.3 L754,650.5 L749.8,656.7Z" fill="#000"/>
<text x="412" y="657.8" font-family="Liberation Sans" font-size="30.4" fill="#000">Active core region</text>
<g font-family="Liberation Sans" font-weight="bold" font-size="27.4" fill="#000">
<path d="M118.7,27.40H164" stroke="#000" stroke-width="1.7" fill="none"/>
<path d="M135.60,17.80 L152.40,27.40 L135.60,37.00Z" fill="#000"/>
<text x="166.5" y="37.40">Column 3, W=2 mm</text>
<path d="M118.7,63.33H164" stroke="#000" stroke-width="1.7" fill="none"/>
<rect x="135.20" y="57.33" width="12.00" height="12.00" fill="#000"/>
<text x="166.5" y="73.33">Column 4, W=2 mm</text>
<path d="M118.7,99.26H164" stroke="#000" stroke-width="3.0" fill="none"/>
<path d="M132.46,99.26H149.94M141.20,90.52V108.00" stroke="#000" stroke-width="3" fill="none"/>
<text x="166.5" y="109.26">Column 5, W=2 mm</text>
<path d="M118.7,135.19H164" stroke="#f00" stroke-width="1.7" fill="none"/>
<path d="M141.20,124.09 L149.36,135.19 L141.20,146.29 L133.04,135.19Z" fill="#f00"/>
<text x="166.5" y="145.19">Column 3, W=3 mm</text>
<path d="M118.7,171.12H164" stroke="#f00" stroke-width="1.7" fill="none"/>
<path d="M131.36,176.84 L141.20,159.68 L151.04,176.84Z" fill="#f00"/>
<text x="166.5" y="181.12">Column 4, W=3 mm</text>
<path d="M118.7,207.05H164" stroke="#f00" stroke-width="3.0" fill="none"/>
<path d="M134.39,200.24L148.01,213.86M134.39,213.86L148.01,200.24" stroke="#f00" stroke-width="3.2" fill="none"/>
<text x="166.5" y="217.05">Column 5, W=3 mm</text>
<path d="M118.7,242.98H164" stroke="#00f" stroke-width="1.7" fill="none"/>
<path d="M146.80,233.38 L130.00,242.98 L146.80,252.58Z" fill="#00f"/>
<text x="166.5" y="252.98">Column 3, W=4 mm</text>
<path d="M118.7,278.91H164" stroke="#00f" stroke-width="1.7" fill="none"/>
<circle cx="141.20" cy="278.91" r="8.16" fill="#00f"/>
<text x="166.5" y="288.91">Column 4, W=4 mm</text>
<path d="M118.7,314.84H164" stroke="#00f" stroke-width="1.7" fill="none"/>
<path d="M141.20,305.94 L143.29,312.37 L150.04,312.37 L144.58,316.34 L146.67,322.76 L141.20,318.79 L135.73,322.76 L137.82,316.34 L132.36,312.37 L139.11,312.37Z" fill="#00f"/>
<text x="166.5" y="324.84">Column 5, W=4 mm</text>
</g>
</svg></body></html>
